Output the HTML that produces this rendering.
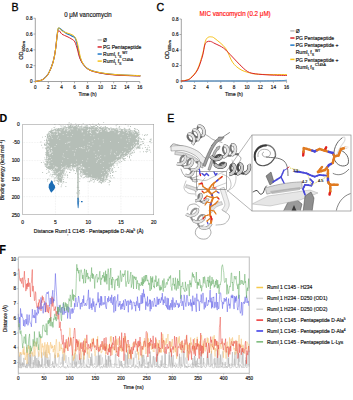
<!DOCTYPE html><html><head><meta charset="utf-8"><style>html,body{margin:0;padding:0;background:#fff;width:353px;height:400px;overflow:hidden}svg{display:block}text{transform-box:fill-box;transform-origin:center;transform:scaleY(1.1);font-family:"Liberation Sans",sans-serif;stroke:#141414;stroke-width:0.16px} text.r{stroke:#ff1414} text.n{stroke:none}</style></head><body><svg width="353" height="400" viewBox="0 0 353 400"><path d="M35.3 18.22V81.5H139.78" fill="none" stroke="#8a8a8a" stroke-width="0.8"/><path d="M33.5 81.50H35.3" stroke="#8a8a8a" stroke-width="0.7"/><text x="32.50" y="83.20" font-size="4.6" fill="#141414" text-anchor="end" font-weight="normal" >0</text><path d="M33.5 65.68H35.3" stroke="#8a8a8a" stroke-width="0.7"/><text x="32.50" y="67.38" font-size="4.6" fill="#141414" text-anchor="end" font-weight="normal" >0.2</text><path d="M33.5 49.86H35.3" stroke="#8a8a8a" stroke-width="0.7"/><text x="32.50" y="51.56" font-size="4.6" fill="#141414" text-anchor="end" font-weight="normal" >0.4</text><path d="M33.5 34.04H35.3" stroke="#8a8a8a" stroke-width="0.7"/><text x="32.50" y="35.74" font-size="4.6" fill="#141414" text-anchor="end" font-weight="normal" >0.6</text><path d="M33.5 18.22H35.3" stroke="#8a8a8a" stroke-width="0.7"/><text x="32.50" y="19.92" font-size="4.6" fill="#141414" text-anchor="end" font-weight="normal" >0.8</text><path d="M35.30 81.5V83.3" stroke="#8a8a8a" stroke-width="0.7"/><text x="35.30" y="89.10" font-size="4.6" fill="#141414" text-anchor="middle" font-weight="normal" >0</text><path d="M48.36 81.5V83.3" stroke="#8a8a8a" stroke-width="0.7"/><text x="48.36" y="89.10" font-size="4.6" fill="#141414" text-anchor="middle" font-weight="normal" >2</text><path d="M61.42 81.5V83.3" stroke="#8a8a8a" stroke-width="0.7"/><text x="61.42" y="89.10" font-size="4.6" fill="#141414" text-anchor="middle" font-weight="normal" >4</text><path d="M74.48 81.5V83.3" stroke="#8a8a8a" stroke-width="0.7"/><text x="74.48" y="89.10" font-size="4.6" fill="#141414" text-anchor="middle" font-weight="normal" >6</text><path d="M87.54 81.5V83.3" stroke="#8a8a8a" stroke-width="0.7"/><text x="87.54" y="89.10" font-size="4.6" fill="#141414" text-anchor="middle" font-weight="normal" >8</text><path d="M100.60 81.5V83.3" stroke="#8a8a8a" stroke-width="0.7"/><text x="100.60" y="89.10" font-size="4.6" fill="#141414" text-anchor="middle" font-weight="normal" >10</text><path d="M113.66 81.5V83.3" stroke="#8a8a8a" stroke-width="0.7"/><text x="113.66" y="89.10" font-size="4.6" fill="#141414" text-anchor="middle" font-weight="normal" >12</text><path d="M126.72 81.5V83.3" stroke="#8a8a8a" stroke-width="0.7"/><text x="126.72" y="89.10" font-size="4.6" fill="#141414" text-anchor="middle" font-weight="normal" >14</text><path d="M139.78 81.5V83.3" stroke="#8a8a8a" stroke-width="0.7"/><text x="139.78" y="89.10" font-size="4.6" fill="#141414" text-anchor="middle" font-weight="normal" >16</text><text x="87.54" y="96.10" font-size="4.9" fill="#141414" text-anchor="middle" font-weight="normal" >Time (h)</text><g transform="translate(23.00,50.30) rotate(-90)"><text x="0" y="0" font-size="5.6" fill="#141414" text-anchor="middle">OD<tspan font-size="3.5" dy="1.3">600nm</tspan></text></g><text x="64.20" y="16.70" font-size="6.1" fill="#222" text-anchor="start" font-weight="normal" >0 μM vancomycin</text><path d="M35.50 81.40C36.25 81.27 38.57 81.07 40.00 80.60C41.43 80.13 42.67 79.82 44.10 78.60C45.53 77.38 47.10 76.07 48.60 73.30C50.10 70.53 51.93 66.05 53.10 62.00C54.27 57.95 54.92 53.50 55.60 49.00C56.28 44.50 56.75 38.43 57.20 35.00C57.65 31.57 57.50 29.18 58.30 28.40C59.10 27.62 60.55 29.50 62.00 30.30C63.45 31.10 65.17 32.25 67.00 33.20C68.83 34.15 71.57 35.12 73.00 36.00C74.43 36.88 74.72 36.17 75.60 38.50C76.48 40.83 77.57 46.83 78.30 50.00C79.03 53.17 79.22 55.17 80.00 57.50C80.78 59.83 81.50 61.98 83.00 64.00C84.50 66.02 86.33 68.17 89.00 69.60C91.67 71.03 94.67 71.77 99.00 72.60C103.33 73.43 108.17 74.07 115.00 74.60C121.83 75.13 135.83 75.60 140.00 75.80" fill="none" stroke="#bdbdbd" stroke-width="1.0" stroke-linejoin="round" stroke-linecap="round"/><path d="M35.50 81.40C36.25 81.27 38.57 81.07 40.00 80.60C41.43 80.13 42.67 79.82 44.10 78.60C45.53 77.38 47.10 76.07 48.60 73.30C50.10 70.53 51.93 66.05 53.10 62.00C54.27 57.95 54.92 53.50 55.60 49.00C56.28 44.50 56.72 38.47 57.20 35.00C57.68 31.53 57.70 28.98 58.50 28.20C59.30 27.42 60.75 29.47 62.00 30.30C63.25 31.13 64.33 32.22 66.00 33.20C67.67 34.18 70.43 35.32 72.00 36.20C73.57 37.08 74.35 36.20 75.40 38.50C76.45 40.80 77.53 46.83 78.30 50.00C79.07 53.17 79.22 55.17 80.00 57.50C80.78 59.83 81.50 61.98 83.00 64.00C84.50 66.02 86.33 68.17 89.00 69.60C91.67 71.03 94.67 71.77 99.00 72.60C103.33 73.43 108.17 74.07 115.00 74.60C121.83 75.13 135.83 75.60 140.00 75.80" fill="none" stroke="#1f78c8" stroke-width="1.1" stroke-linejoin="round" stroke-linecap="round"/><path d="M35.50 81.40C36.25 81.27 38.57 81.07 40.00 80.60C41.43 80.13 42.67 79.82 44.10 78.60C45.53 77.38 47.10 76.07 48.60 73.30C50.10 70.53 51.93 66.05 53.10 62.00C54.27 57.95 54.92 53.50 55.60 49.00C56.28 44.50 56.65 38.07 57.20 35.00C57.75 31.93 58.10 30.73 58.90 30.60C59.70 30.47 60.65 33.22 62.00 34.20C63.35 35.18 65.32 35.65 67.00 36.50C68.68 37.35 70.78 38.38 72.10 39.30C73.42 40.22 73.98 40.22 74.90 42.00C75.82 43.78 76.83 47.42 77.60 50.00C78.37 52.58 78.60 55.17 79.50 57.50C80.40 59.83 81.42 61.95 83.00 64.00C84.58 66.05 86.33 68.33 89.00 69.80C91.67 71.27 94.67 71.93 99.00 72.80C103.33 73.67 108.17 74.47 115.00 75.00C121.83 75.53 135.83 75.83 140.00 76.00" fill="none" stroke="#d9252b" stroke-width="1.0" stroke-linejoin="round" stroke-linecap="round"/><path d="M35.50 81.40C36.25 81.27 38.57 81.07 40.00 80.60C41.43 80.13 42.67 79.82 44.10 78.60C45.53 77.38 47.10 76.07 48.60 73.30C50.10 70.53 51.93 66.05 53.10 62.00C54.27 57.95 54.92 53.50 55.60 49.00C56.28 44.50 56.72 38.52 57.20 35.00C57.68 31.48 57.62 28.53 58.50 27.90C59.38 27.27 61.08 30.35 62.50 31.20C63.92 32.05 65.22 32.32 67.00 33.00C68.78 33.68 71.60 34.05 73.20 35.30C74.80 36.55 75.65 38.05 76.60 40.50C77.55 42.95 78.25 47.17 78.90 50.00C79.55 52.83 79.77 55.17 80.50 57.50C81.23 59.83 81.88 61.98 83.30 64.00C84.72 66.02 86.38 68.20 89.00 69.60C91.62 71.00 94.67 71.58 99.00 72.40C103.33 73.22 108.17 73.97 115.00 74.50C121.83 75.03 135.83 75.42 140.00 75.60" fill="none" stroke="#f7c21a" stroke-width="1.0" stroke-linejoin="round" stroke-linecap="round"/><path d="M97.6 39.90H101.8" stroke="#bdbdbd" stroke-width="1.5"/><text x="103.0" y="41.90" font-size="5.05" fill="#141414">Ø</text><path d="M97.6 46.97H101.8" stroke="#d9252b" stroke-width="1.5"/><text x="103.0" y="48.97" font-size="5.05" fill="#141414">PG Pentapeptide</text><path d="M97.6 54.04H101.8" stroke="#1f78c8" stroke-width="1.5"/><text x="103.0" y="56.04" font-size="5.05" fill="#141414">RumI<tspan font-size="3.6" dy="1.3">L</tspan><tspan dy="-1.3" dx="0.6">f</tspan><tspan font-size="3.6" dy="1.3">S</tspan><tspan font-size="3.6" dy="-3.6" dx="0.8">WT</tspan></text><path d="M97.6 61.11H101.8" stroke="#f7c21a" stroke-width="1.5"/><text x="103.0" y="63.11" font-size="5.05" fill="#141414">RumI<tspan font-size="3.6" dy="1.3">L</tspan><tspan dy="-1.3" dx="0.6">f</tspan><tspan font-size="3.6" dy="1.3">S</tspan><tspan font-size="3.6" dy="-3.6" dx="0.8">C145A</tspan></text><text x="11.60" y="10.80" font-size="10.6" fill="#000" text-anchor="start" font-weight="normal" style="stroke:#000;stroke-width:0.3px">B</text><path d="M181.3 19.00V81.0H286.58" fill="none" stroke="#8a8a8a" stroke-width="0.8"/><path d="M179.5 81.00H181.3" stroke="#8a8a8a" stroke-width="0.7"/><text x="178.50" y="82.70" font-size="4.6" fill="#141414" text-anchor="end" font-weight="normal" >0</text><path d="M179.5 65.50H181.3" stroke="#8a8a8a" stroke-width="0.7"/><text x="178.50" y="67.20" font-size="4.6" fill="#141414" text-anchor="end" font-weight="normal" >0.2</text><path d="M179.5 50.00H181.3" stroke="#8a8a8a" stroke-width="0.7"/><text x="178.50" y="51.70" font-size="4.6" fill="#141414" text-anchor="end" font-weight="normal" >0.4</text><path d="M179.5 34.50H181.3" stroke="#8a8a8a" stroke-width="0.7"/><text x="178.50" y="36.20" font-size="4.6" fill="#141414" text-anchor="end" font-weight="normal" >0.6</text><path d="M179.5 19.00H181.3" stroke="#8a8a8a" stroke-width="0.7"/><text x="178.50" y="20.70" font-size="4.6" fill="#141414" text-anchor="end" font-weight="normal" >0.8</text><path d="M181.30 81.0V82.8" stroke="#8a8a8a" stroke-width="0.7"/><text x="181.30" y="88.60" font-size="4.6" fill="#141414" text-anchor="middle" font-weight="normal" >0</text><path d="M194.46 81.0V82.8" stroke="#8a8a8a" stroke-width="0.7"/><text x="194.46" y="88.60" font-size="4.6" fill="#141414" text-anchor="middle" font-weight="normal" >2</text><path d="M207.62 81.0V82.8" stroke="#8a8a8a" stroke-width="0.7"/><text x="207.62" y="88.60" font-size="4.6" fill="#141414" text-anchor="middle" font-weight="normal" >4</text><path d="M220.78 81.0V82.8" stroke="#8a8a8a" stroke-width="0.7"/><text x="220.78" y="88.60" font-size="4.6" fill="#141414" text-anchor="middle" font-weight="normal" >6</text><path d="M233.94 81.0V82.8" stroke="#8a8a8a" stroke-width="0.7"/><text x="233.94" y="88.60" font-size="4.6" fill="#141414" text-anchor="middle" font-weight="normal" >8</text><path d="M247.10 81.0V82.8" stroke="#8a8a8a" stroke-width="0.7"/><text x="247.10" y="88.60" font-size="4.6" fill="#141414" text-anchor="middle" font-weight="normal" >10</text><path d="M260.26 81.0V82.8" stroke="#8a8a8a" stroke-width="0.7"/><text x="260.26" y="88.60" font-size="4.6" fill="#141414" text-anchor="middle" font-weight="normal" >12</text><path d="M273.42 81.0V82.8" stroke="#8a8a8a" stroke-width="0.7"/><text x="273.42" y="88.60" font-size="4.6" fill="#141414" text-anchor="middle" font-weight="normal" >14</text><path d="M286.58 81.0V82.8" stroke="#8a8a8a" stroke-width="0.7"/><text x="286.58" y="88.60" font-size="4.6" fill="#141414" text-anchor="middle" font-weight="normal" >16</text><text x="233.94" y="95.60" font-size="4.9" fill="#141414" text-anchor="middle" font-weight="normal" >Time (h)</text><g transform="translate(169.00,49.80) rotate(-90)"><text x="0" y="0" font-size="5.6" fill="#141414" text-anchor="middle">OD<tspan font-size="3.5" dy="1.3">600nm</tspan></text></g><text x="199.60" y="16.20" font-size="6.25" fill="#ff1414" text-anchor="start" font-weight="normal" class="r">MIC vancomycin (0.2 μM)</text><path d="M181.40 81.20C198.92 81.20 268.98 81.20 286.50 81.20" fill="none" stroke="#bdbdbd" stroke-width="0.8" stroke-linejoin="round" stroke-linecap="round"/><path d="M181.40 81.20C187.83 81.17 206.90 81.03 220.00 81.00C233.10 80.97 250.00 81.05 260.00 81.00C270.00 80.95 275.58 80.83 280.00 80.70C284.42 80.57 285.42 80.28 286.50 80.20" fill="none" stroke="#1f78c8" stroke-width="0.8" stroke-linejoin="round" stroke-linecap="round"/><path d="M181.40 81.00C182.17 80.87 184.48 80.70 186.00 80.20C187.52 79.70 188.58 79.83 190.50 78.00C192.42 76.17 195.47 73.28 197.50 69.20C199.53 65.12 201.38 58.17 202.70 53.50C204.02 48.83 204.52 43.88 205.40 41.20C206.28 38.52 206.98 38.12 208.00 37.40C209.02 36.68 210.33 36.70 211.50 36.90C212.67 37.10 212.67 36.72 215.00 38.60C217.33 40.48 222.58 44.27 225.50 48.20C228.42 52.13 230.08 58.70 232.50 62.20C234.92 65.70 237.32 67.47 240.00 69.20C242.68 70.93 245.47 71.75 248.60 72.60C251.73 73.45 252.48 73.97 258.80 74.30C265.12 74.63 281.88 74.55 286.50 74.60" fill="none" stroke="#f7c21a" stroke-width="1.0" stroke-linejoin="round" stroke-linecap="round"/><path d="M181.40 81.00C182.17 80.90 184.48 80.83 186.00 80.40C187.52 79.97 188.58 80.13 190.50 78.40C192.42 76.67 195.50 73.73 197.50 70.00C199.50 66.27 201.28 60.17 202.50 56.00C203.72 51.83 204.05 47.37 204.80 45.00C205.55 42.63 206.05 42.40 207.00 41.80C207.95 41.20 209.17 41.10 210.50 41.40C211.83 41.70 212.80 42.47 215.00 43.60C217.20 44.73 220.78 45.97 223.70 48.20C226.62 50.43 229.78 54.22 232.50 57.00C235.22 59.78 237.47 62.47 240.00 64.90C242.53 67.33 245.13 70.12 247.70 71.60C250.27 73.08 251.68 73.23 255.40 73.80C259.12 74.37 264.82 74.72 270.00 75.00C275.18 75.28 283.75 75.42 286.50 75.50" fill="none" stroke="#d9252b" stroke-width="1.0" stroke-linejoin="round" stroke-linecap="round"/><path d="M290.3 30.90H294.5" stroke="#bdbdbd" stroke-width="1.5"/><text x="295.7" y="32.90" font-size="5.05" fill="#141414">Ø</text><path d="M290.3 38.02H294.5" stroke="#d9252b" stroke-width="1.5"/><text x="295.7" y="40.02" font-size="5.05" fill="#141414">PG Pentapeptide</text><path d="M290.3 45.14H294.5" stroke="#1f78c8" stroke-width="1.5"/><text x="295.7" y="47.14" font-size="5.05" fill="#141414">PG Pentapeptide +</text><text x="295.7" y="54.26" font-size="5.05" fill="#141414">RumI<tspan font-size="3.6" dy="1.3">L</tspan><tspan dy="-1.3" dx="0.6">f</tspan><tspan font-size="3.6" dy="1.3">S</tspan><tspan font-size="3.6" dy="-3.6" dx="0.8">WT</tspan></text><path d="M290.3 59.38H294.5" stroke="#f7c21a" stroke-width="1.5"/><text x="295.7" y="61.38" font-size="5.05" fill="#141414">PG Pentapeptide +</text><text x="295.7" y="68.50" font-size="5.05" fill="#141414">RumI<tspan font-size="3.6" dy="1.3">L</tspan><tspan dy="-1.3" dx="0.6">f</tspan><tspan font-size="3.6" dy="1.3">S</tspan><tspan font-size="3.6" dy="-3.6" dx="0.8">C145A</tspan></text><text x="156.50" y="11.10" font-size="10.6" fill="#000" text-anchor="start" font-weight="normal" style="stroke:#000;stroke-width:0.3px">C</text><path d="M55.45 124.5V214.7" stroke="#dcdcdc" stroke-width="0.5" stroke-dasharray="0.7 0.9"/><path d="M88.20 124.5V214.7" stroke="#dcdcdc" stroke-width="0.5" stroke-dasharray="0.7 0.9"/><path d="M120.95 124.5V214.7" stroke="#dcdcdc" stroke-width="0.5" stroke-dasharray="0.7 0.9"/><path d="M22.7 142.54H153.7" stroke="#dcdcdc" stroke-width="0.5" stroke-dasharray="0.7 0.9"/><path d="M22.7 160.58H153.7" stroke="#dcdcdc" stroke-width="0.5" stroke-dasharray="0.7 0.9"/><path d="M22.7 178.62H153.7" stroke="#dcdcdc" stroke-width="0.5" stroke-dasharray="0.7 0.9"/><path d="M22.7 196.66H153.7" stroke="#dcdcdc" stroke-width="0.5" stroke-dasharray="0.7 0.9"/><path d="M46.2 150.0 L46.4 140.0 L47.4 134.0 L50.0 131.0 L55.0 129.0 L60.7 128.0 L70.0 126.4 L80.0 126.6 L100.0 127.6 L128.0 129.4 L136.8 131.1 L138.6 134.2 L139.2 139.8 L139.0 145.0 L136.0 145.5 L127.6 154.9 L117.7 160.6 L112.0 166.2 L109.2 173.3 L106.3 180.4 L100.7 181.2 L95.0 178.5 L88.0 177.0 L82.2 173.5 L79.5 168.0 L78.0 166.5 L72.3 168.0 L65.5 169.0 L63.5 175.0 L61.5 183.0 L59.0 182.0 L56.0 176.0 L53.0 170.5 L49.0 169.5 L46.4 168.0Z" fill="#b5beb7"/><path d="M77.2 165.0 L78.7 165.0 L78.8 199.0 L77.3 199.0Z" fill="#b5beb7"/><path d="M44.9 163.8h.9v.9h-.9zM82.2 174.5h.9v.9h-.9zM62.3 182.7h.9v.9h-.9zM110.7 177.6h.9v.9h-.9zM139.7 141.5h.9v.9h-.9zM46.1 154.8h.9v.9h-.9zM129.0 156.0h.9v.9h-.9zM80.7 171.3h.9v.9h-.9zM46.0 147.8h.9v.9h-.9zM65.6 182.0h.9v.9h-.9zM68.7 168.8h.9v.9h-.9zM132.5 152.4h.9v.9h-.9zM72.5 125.1h.9v.9h-.9zM113.5 177.3h.9v.9h-.9zM101.0 183.2h.9v.9h-.9zM111.9 169.6h.9v.9h-.9zM135.7 147.1h.9v.9h-.9zM131.7 151.5h.9v.9h-.9zM100.1 127.2h.9v.9h-.9zM129.0 157.3h.9v.9h-.9zM112.8 128.2h.9v.9h-.9zM44.9 136.1h.9v.9h-.9zM75.4 126.2h.9v.9h-.9zM58.3 182.6h.9v.9h-.9zM45.6 152.2h.9v.9h-.9zM89.2 181.4h.9v.9h-.9zM91.1 126.1h.9v.9h-.9zM138.3 132.6h.9v.9h-.9zM84.3 176.8h.9v.9h-.9zM130.2 159.5h.9v.9h-.9zM118.3 160.8h.9v.9h-.9zM130.6 151.7h.9v.9h-.9zM99.6 127.4h.9v.9h-.9zM117.7 128.7h.9v.9h-.9zM105.8 127.3h.9v.9h-.9zM101.8 181.5h.9v.9h-.9zM109.9 175.3h.9v.9h-.9zM129.7 153.6h.9v.9h-.9zM80.2 175.6h.9v.9h-.9zM119.2 127.7h.9v.9h-.9zM113.2 166.4h.9v.9h-.9zM127.0 155.8h.9v.9h-.9zM143.9 138.8h.9v.9h-.9zM104.8 127.1h.9v.9h-.9zM94.1 179.7h.9v.9h-.9zM123.7 127.7h.9v.9h-.9zM115.7 125.3h.9v.9h-.9zM87.6 180.9h.9v.9h-.9zM70.6 125.5h.9v.9h-.9zM46.1 153.2h.9v.9h-.9zM97.2 180.0h.9v.9h-.9zM66.2 171.5h.9v.9h-.9zM85.9 125.3h.9v.9h-.9zM90.5 177.8h.9v.9h-.9zM132.4 152.6h.9v.9h-.9zM116.7 164.6h.9v.9h-.9zM96.1 125.1h.9v.9h-.9zM82.8 177.3h.9v.9h-.9zM86.3 176.9h.9v.9h-.9zM102.4 181.0h.9v.9h-.9zM51.2 129.6h.9v.9h-.9zM86.3 176.3h.9v.9h-.9zM112.3 168.3h.9v.9h-.9zM139.3 133.7h.9v.9h-.9zM74.5 167.6h.9v.9h-.9zM103.0 126.8h.9v.9h-.9zM75.9 167.2h.9v.9h-.9zM103.2 122.2h.9v.9h-.9zM84.1 176.8h.9v.9h-.9zM124.4 128.8h.9v.9h-.9zM75.2 173.0h.9v.9h-.9zM107.5 127.7h.9v.9h-.9zM80.2 171.6h.9v.9h-.9zM84.6 125.6h.9v.9h-.9zM128.8 128.3h.9v.9h-.9zM45.1 152.4h.9v.9h-.9zM76.1 169.6h.9v.9h-.9zM92.1 125.9h.9v.9h-.9zM62.6 125.5h.9v.9h-.9zM135.4 128.7h.9v.9h-.9zM110.6 171.1h.9v.9h-.9zM92.4 123.8h.9v.9h-.9zM48.7 131.3h.9v.9h-.9zM135.5 146.6h.9v.9h-.9zM46.7 133.9h.9v.9h-.9zM139.5 144.4h.9v.9h-.9zM89.3 124.1h.9v.9h-.9zM99.0 124.5h.9v.9h-.9zM46.0 156.7h.9v.9h-.9zM124.4 127.9h.9v.9h-.9zM138.0 130.1h.9v.9h-.9zM104.9 126.0h.9v.9h-.9zM72.5 168.5h.9v.9h-.9zM45.4 154.1h.9v.9h-.9zM95.9 127.2h.9v.9h-.9zM50.5 130.7h.9v.9h-.9zM54.0 129.0h.9v.9h-.9zM138.3 145.8h.9v.9h-.9zM111.3 169.2h.9v.9h-.9zM78.5 170.3h.9v.9h-.9zM67.0 174.5h.9v.9h-.9zM75.4 126.0h.9v.9h-.9zM90.0 179.5h.9v.9h-.9zM78.6 124.1h.9v.9h-.9zM93.4 181.9h.9v.9h-.9zM92.6 178.8h.9v.9h-.9zM69.6 171.9h.9v.9h-.9zM67.6 124.6h.9v.9h-.9zM53.7 172.5h.9v.9h-.9zM49.9 173.7h.9v.9h-.9zM110.0 172.5h.9v.9h-.9zM46.2 168.9h.9v.9h-.9zM141.1 139.0h.9v.9h-.9zM46.1 166.9h.9v.9h-.9zM81.4 172.0h.9v.9h-.9zM120.2 128.5h.9v.9h-.9zM44.6 145.0h.9v.9h-.9zM53.8 129.0h.9v.9h-.9zM98.6 127.5h.9v.9h-.9zM109.5 180.3h.9v.9h-.9zM56.3 179.7h.9v.9h-.9zM77.9 167.7h.9v.9h-.9zM136.8 129.1h.9v.9h-.9zM110.0 180.9h.9v.9h-.9zM137.6 147.1h.9v.9h-.9zM99.0 181.1h.9v.9h-.9zM117.0 162.7h.9v.9h-.9zM76.3 168.6h.9v.9h-.9zM46.1 148.7h.9v.9h-.9zM46.0 164.3h.9v.9h-.9zM124.8 158.0h.9v.9h-.9zM45.7 160.5h.9v.9h-.9zM139.6 147.6h.9v.9h-.9zM104.8 127.2h.9v.9h-.9zM127.7 125.5h.9v.9h-.9zM80.3 171.6h.9v.9h-.9zM47.1 134.9h.9v.9h-.9zM51.5 128.4h.9v.9h-.9zM69.0 168.7h.9v.9h-.9zM69.9 169.8h.9v.9h-.9zM76.2 169.2h.9v.9h-.9zM80.3 172.4h.9v.9h-.9zM111.7 168.3h.9v.9h-.9zM45.8 154.8h.9v.9h-.9zM67.3 168.9h.9v.9h-.9zM46.2 156.4h.9v.9h-.9zM45.1 144.5h.9v.9h-.9zM93.1 179.1h.9v.9h-.9zM54.4 178.1h.9v.9h-.9zM108.8 184.3h.9v.9h-.9zM112.6 171.3h.9v.9h-.9zM80.0 170.6h.9v.9h-.9zM140.4 138.6h.9v.9h-.9zM142.4 142.8h.9v.9h-.9zM46.2 140.2h.9v.9h-.9zM80.8 126.1h.9v.9h-.9zM91.2 126.5h.9v.9h-.9zM44.2 140.2h.9v.9h-.9zM100.3 181.4h.9v.9h-.9zM103.4 181.3h.9v.9h-.9zM45.1 165.8h.9v.9h-.9zM54.0 127.4h.9v.9h-.9zM70.6 123.2h.9v.9h-.9zM116.3 128.1h.9v.9h-.9zM122.7 158.5h.9v.9h-.9zM137.0 145.6h.9v.9h-.9zM75.9 167.6h.9v.9h-.9zM86.9 125.3h.9v.9h-.9zM58.2 128.0h.9v.9h-.9zM44.9 147.6h.9v.9h-.9zM82.7 122.9h.9v.9h-.9zM82.8 174.1h.9v.9h-.9zM46.3 163.1h.9v.9h-.9zM72.3 168.1h.9v.9h-.9zM42.2 172.0h.9v.9h-.9zM119.1 125.9h.9v.9h-.9zM46.8 134.8h.9v.9h-.9zM112.0 175.3h.9v.9h-.9zM67.8 126.5h.9v.9h-.9zM74.4 125.9h.9v.9h-.9zM51.9 171.7h.9v.9h-.9zM86.8 126.6h.9v.9h-.9zM85.0 175.9h.9v.9h-.9zM107.2 179.1h.9v.9h-.9zM138.5 131.9h.9v.9h-.9zM80.4 175.6h.9v.9h-.9zM55.7 128.7h.9v.9h-.9zM99.2 127.0h.9v.9h-.9zM58.4 181.3h.9v.9h-.9zM119.6 161.8h.9v.9h-.9zM96.5 179.7h.9v.9h-.9zM116.7 124.0h.9v.9h-.9zM100.2 181.8h.9v.9h-.9zM75.3 123.4h.9v.9h-.9zM49.0 171.6h.9v.9h-.9zM67.3 124.1h.9v.9h-.9zM60.8 126.4h.9v.9h-.9zM65.3 174.6h.9v.9h-.9zM54.2 174.4h.9v.9h-.9zM57.3 181.2h.9v.9h-.9zM141.3 144.3h.9v.9h-.9zM111.8 170.2h.9v.9h-.9zM92.2 127.2h.9v.9h-.9zM113.2 171.6h.9v.9h-.9zM46.1 165.7h.9v.9h-.9zM70.2 168.7h.9v.9h-.9zM42.1 136.7h.9v.9h-.9zM78.0 126.0h.9v.9h-.9zM89.4 180.8h.9v.9h-.9zM71.0 124.4h.9v.9h-.9zM106.5 127.3h.9v.9h-.9zM57.7 180.8h.9v.9h-.9zM79.2 169.0h.9v.9h-.9zM78.0 124.9h.9v.9h-.9zM61.2 184.5h.9v.9h-.9zM45.7 142.6h.9v.9h-.9zM63.4 181.6h.9v.9h-.9zM64.7 173.2h.9v.9h-.9zM100.9 183.2h.9v.9h-.9zM129.5 128.8h.9v.9h-.9zM53.4 172.0h.9v.9h-.9zM138.2 131.9h.9v.9h-.9zM134.4 148.5h.9v.9h-.9zM65.4 186.0h.9v.9h-.9zM134.0 130.1h.9v.9h-.9zM70.3 126.4h.9v.9h-.9zM85.7 125.7h.9v.9h-.9zM97.0 126.0h.9v.9h-.9zM104.1 126.7h.9v.9h-.9zM60.7 186.3h.9v.9h-.9zM68.4 125.4h.9v.9h-.9zM80.6 174.6h.9v.9h-.9zM47.8 172.2h.9v.9h-.9zM58.2 184.1h.9v.9h-.9zM45.8 144.0h.9v.9h-.9zM40.5 141.6h.9v.9h-.9zM90.7 177.9h.9v.9h-.9zM119.9 159.6h.9v.9h-.9zM134.1 151.8h.9v.9h-.9zM93.5 125.6h.9v.9h-.9zM94.3 126.1h.9v.9h-.9zM103.5 181.7h.9v.9h-.9zM51.6 174.3h.9v.9h-.9zM83.6 126.7h.9v.9h-.9zM95.0 179.0h.9v.9h-.9zM42.4 147.4h.9v.9h-.9zM41.2 144.8h.9v.9h-.9zM74.6 125.5h.9v.9h-.9zM64.3 125.9h.9v.9h-.9zM107.6 181.9h.9v.9h-.9zM44.1 144.4h.9v.9h-.9zM91.4 180.3h.9v.9h-.9zM79.0 167.5h.9v.9h-.9zM62.7 127.7h.9v.9h-.9zM128.2 129.3h.9v.9h-.9zM63.6 126.7h.9v.9h-.9zM74.1 125.9h.9v.9h-.9zM73.2 170.3h.9v.9h-.9zM118.6 126.8h.9v.9h-.9zM81.0 176.3h.9v.9h-.9zM45.4 148.4h.9v.9h-.9zM72.8 169.2h.9v.9h-.9zM48.9 131.4h.9v.9h-.9zM46.0 151.9h.9v.9h-.9zM108.5 175.8h.9v.9h-.9zM45.4 162.9h.9v.9h-.9zM121.2 161.1h.9v.9h-.9zM57.3 180.0h.9v.9h-.9zM45.2 164.3h.9v.9h-.9zM68.7 122.2h.9v.9h-.9zM72.2 126.0h.9v.9h-.9zM110.5 127.3h.9v.9h-.9zM69.0 126.6h.9v.9h-.9zM107.1 127.2h.9v.9h-.9zM44.1 163.6h.9v.9h-.9zM77.8 125.2h.9v.9h-.9zM102.3 127.3h.9v.9h-.9zM93.5 178.5h.9v.9h-.9zM95.1 125.2h.9v.9h-.9zM50.6 130.3h.9v.9h-.9zM90.0 125.5h.9v.9h-.9zM71.9 126.4h.9v.9h-.9zM122.3 158.1h.9v.9h-.9zM100.6 126.1h.9v.9h-.9zM118.6 162.4h.9v.9h-.9zM87.7 177.0h.9v.9h-.9zM79.6 126.5h.9v.9h-.9zM58.7 124.2h.9v.9h-.9zM54.4 124.0h.9v.9h-.9zM43.4 161.8h.9v.9h-.9zM68.6 123.4h.9v.9h-.9zM92.0 178.5h.9v.9h-.9zM57.1 182.9h.9v.9h-.9zM93.0 126.1h.9v.9h-.9zM68.7 126.1h.9v.9h-.9zM81.4 124.8h.9v.9h-.9zM109.1 181.7h.9v.9h-.9zM113.4 165.0h.9v.9h-.9zM88.7 126.8h.9v.9h-.9zM54.6 128.9h.9v.9h-.9zM123.2 158.2h.9v.9h-.9zM114.2 167.2h.9v.9h-.9zM71.0 169.5h.9v.9h-.9zM76.1 170.5h.9v.9h-.9zM44.7 165.4h.9v.9h-.9zM92.7 126.0h.9v.9h-.9zM67.2 175.4h.9v.9h-.9zM130.9 154.9h.9v.9h-.9zM57.9 182.7h.9v.9h-.9zM132.3 152.0h.9v.9h-.9zM49.7 131.1h.9v.9h-.9zM129.6 152.8h.9v.9h-.9zM44.3 157.4h.9v.9h-.9zM117.9 166.9h.9v.9h-.9zM101.2 182.1h.9v.9h-.9zM129.0 157.1h.9v.9h-.9zM112.2 175.0h.9v.9h-.9zM98.0 123.3h.9v.9h-.9zM131.6 151.7h.9v.9h-.9zM133.0 149.9h.9v.9h-.9zM62.8 179.0h.9v.9h-.9zM58.0 183.7h.9v.9h-.9zM58.2 180.6h.9v.9h-.9zM69.0 126.3h.9v.9h-.9zM130.1 126.1h.9v.9h-.9zM70.5 124.9h.9v.9h-.9zM80.3 173.3h.9v.9h-.9zM47.9 132.8h.9v.9h-.9zM115.4 171.0h.9v.9h-.9zM108.7 179.9h.9v.9h-.9zM123.4 159.3h.9v.9h-.9zM128.7 129.0h.9v.9h-.9zM55.8 177.6h.9v.9h-.9zM46.0 139.5h.9v.9h-.9zM57.8 180.7h.9v.9h-.9zM62.7 181.3h.9v.9h-.9zM97.5 126.1h.9v.9h-.9zM54.4 173.6h.9v.9h-.9zM62.9 180.9h.9v.9h-.9zM124.4 160.0h.9v.9h-.9zM64.3 174.5h.9v.9h-.9zM93.0 178.5h.9v.9h-.9zM116.3 127.7h.9v.9h-.9zM52.8 176.4h.9v.9h-.9zM134.6 128.5h.9v.9h-.9zM69.8 126.3h.9v.9h-.9zM70.0 125.6h.9v.9h-.9zM117.9 161.2h.9v.9h-.9zM99.6 126.9h.9v.9h-.9zM112.0 172.0h.9v.9h-.9zM75.9 125.0h.9v.9h-.9zM45.5 161.0h.9v.9h-.9zM45.9 158.5h.9v.9h-.9zM46.2 153.4h.9v.9h-.9zM131.2 153.2h.9v.9h-.9zM44.7 159.1h.9v.9h-.9zM77.3 126.5h.9v.9h-.9zM46.2 165.7h.9v.9h-.9zM118.5 160.9h.9v.9h-.9zM123.5 157.9h.9v.9h-.9zM138.4 130.8h.9v.9h-.9zM102.1 181.1h.9v.9h-.9zM111.2 169.9h.9v.9h-.9zM110.0 173.1h.9v.9h-.9zM40.9 162.1h.9v.9h-.9zM109.8 176.7h.9v.9h-.9zM63.5 176.9h.9v.9h-.9zM69.1 172.0h.9v.9h-.9zM139.5 145.3h.9v.9h-.9zM76.5 125.4h.9v.9h-.9zM69.7 124.7h.9v.9h-.9zM109.7 181.2h.9v.9h-.9zM44.1 143.7h.9v.9h-.9zM134.1 128.1h.9v.9h-.9zM99.7 181.9h.9v.9h-.9zM51.1 170.1h.9v.9h-.9zM67.2 177.2h.9v.9h-.9zM60.5 125.3h.9v.9h-.9zM115.6 163.2h.9v.9h-.9zM133.6 150.4h.9v.9h-.9zM130.2 153.5h.9v.9h-.9zM80.7 171.9h.9v.9h-.9zM85.4 175.9h.9v.9h-.9zM53.6 174.2h.9v.9h-.9zM129.3 154.5h.9v.9h-.9zM85.4 126.6h.9v.9h-.9zM90.4 179.5h.9v.9h-.9zM125.1 124.2h.9v.9h-.9zM44.0 143.5h.9v.9h-.9zM139.8 137.9h.9v.9h-.9zM55.8 128.4h.9v.9h-.9zM114.7 128.5h.9v.9h-.9zM139.4 137.4h.9v.9h-.9zM63.9 174.4h.9v.9h-.9zM105.0 181.2h.9v.9h-.9zM123.6 158.7h.9v.9h-.9zM93.8 180.9h.9v.9h-.9zM65.0 125.8h.9v.9h-.9zM53.6 127.1h.9v.9h-.9zM60.3 127.9h.9v.9h-.9zM45.7 164.4h.9v.9h-.9zM86.5 176.9h.9v.9h-.9zM80.8 170.8h.9v.9h-.9zM53.6 171.9h.9v.9h-.9zM98.4 181.8h.9v.9h-.9zM74.1 170.2h.9v.9h-.9zM143.1 151.3h.9v.9h-.9zM139.7 151.4h.9v.9h-.9zM139.3 148.0h.9v.9h-.9zM137.9 140.1h.9v.9h-.9zM141.5 140.9h.9v.9h-.9zM148.8 146.8h.9v.9h-.9zM149.2 141.1h.9v.9h-.9zM144.9 147.1h.9v.9h-.9zM146.8 134.1h.9v.9h-.9zM138.2 146.2h.9v.9h-.9zM148.7 149.6h.9v.9h-.9zM146.9 149.1h.9v.9h-.9zM137.8 135.0h.9v.9h-.9zM150.6 138.6h.9v.9h-.9zM145.9 149.3h.9v.9h-.9zM146.4 134.9h.9v.9h-.9zM150.6 142.3h.9v.9h-.9zM146.9 147.5h.9v.9h-.9zM138.4 134.0h.9v.9h-.9zM141.9 134.4h.9v.9h-.9zM147.7 145.1h.9v.9h-.9zM150.2 151.7h.9v.9h-.9zM143.0 143.0h.9v.9h-.9zM140.2 144.0h.9v.9h-.9zM144.4 144.7h.9v.9h-.9zM144.0 135.1h.9v.9h-.9zM139.2 146.5h.9v.9h-.9zM136.1 148.3h.9v.9h-.9zM149.8 141.0h.9v.9h-.9zM150.7 139.7h.9v.9h-.9zM146.1 151.6h.9v.9h-.9zM138.6 136.3h.9v.9h-.9zM143.0 138.6h.9v.9h-.9zM147.2 150.8h.9v.9h-.9zM138.4 146.8h.9v.9h-.9zM149.8 139.3h.9v.9h-.9zM137.0 146.8h.9v.9h-.9zM137.3 147.8h.9v.9h-.9zM139.3 145.0h.9v.9h-.9zM136.9 143.0h.9v.9h-.9zM142.5 141.0h.9v.9h-.9zM149.5 149.7h.9v.9h-.9zM145.3 150.9h.9v.9h-.9zM142.2 147.8h.9v.9h-.9zM144.8 134.3h.9v.9h-.9zM138.1 147.5h.9v.9h-.9zM138.8 137.9h.9v.9h-.9zM47.1 179.1h.9v.9h-.9zM55.6 171.1h.9v.9h-.9zM55.3 164.2h.9v.9h-.9zM58.8 177.0h.9v.9h-.9zM51.2 163.3h.9v.9h-.9zM49.5 175.4h.9v.9h-.9zM53.9 181.2h.9v.9h-.9zM57.5 165.2h.9v.9h-.9zM53.8 179.5h.9v.9h-.9zM54.3 160.8h.9v.9h-.9zM59.2 165.4h.9v.9h-.9zM52.1 174.6h.9v.9h-.9zM49.4 158.3h.9v.9h-.9zM54.5 179.9h.9v.9h-.9zM46.3 173.0h.9v.9h-.9zM48.0 170.5h.9v.9h-.9zM58.0 170.5h.9v.9h-.9zM49.5 164.3h.9v.9h-.9zM57.7 170.1h.9v.9h-.9zM56.1 179.9h.9v.9h-.9zM50.1 159.9h.9v.9h-.9zM59.5 171.8h.9v.9h-.9zM60.0 160.4h.9v.9h-.9zM53.0 168.9h.9v.9h-.9zM56.7 179.7h.9v.9h-.9zM48.2 158.0h.9v.9h-.9zM48.8 167.0h.9v.9h-.9zM58.7 165.1h.9v.9h-.9zM46.3 158.0h.9v.9h-.9zM53.9 158.1h.9v.9h-.9zM52.7 173.8h.9v.9h-.9zM51.4 176.3h.9v.9h-.9zM47.1 180.5h.9v.9h-.9zM48.7 178.7h.9v.9h-.9zM58.1 164.8h.9v.9h-.9zM48.3 178.4h.9v.9h-.9zM58.5 177.4h.9v.9h-.9zM59.5 174.7h.9v.9h-.9zM60.5 170.4h.9v.9h-.9zM52.7 161.3h.9v.9h-.9zM59.6 161.0h.9v.9h-.9zM47.8 162.1h.9v.9h-.9zM60.5 180.1h.9v.9h-.9zM51.9 164.1h.9v.9h-.9zM56.5 165.0h.9v.9h-.9zM55.8 169.2h.9v.9h-.9zM54.6 177.1h.9v.9h-.9zM55.1 167.8h.9v.9h-.9zM55.4 165.3h.9v.9h-.9zM61.4 162.5h.9v.9h-.9zM77.1 185.6h.9v.9h-.9zM78.2 187.0h.9v.9h-.9zM78.6 191.8h.9v.9h-.9zM77.6 199.2h.9v.9h-.9zM76.9 170.8h.9v.9h-.9zM77.0 192.9h.9v.9h-.9zM78.7 173.6h.9v.9h-.9zM76.4 192.6h.9v.9h-.9zM77.1 187.1h.9v.9h-.9zM79.4 178.3h.9v.9h-.9zM78.9 165.5h.9v.9h-.9zM76.5 168.7h.9v.9h-.9zM78.2 167.9h.9v.9h-.9zM78.3 190.9h.9v.9h-.9zM78.2 199.0h.9v.9h-.9zM77.1 182.1h.9v.9h-.9zM79.2 165.5h.9v.9h-.9zM79.2 193.4h.9v.9h-.9zM77.6 165.0h.9v.9h-.9zM76.4 171.6h.9v.9h-.9zM79.1 190.0h.9v.9h-.9zM77.1 173.7h.9v.9h-.9zM76.8 187.2h.9v.9h-.9zM77.2 167.4h.9v.9h-.9zM77.2 168.6h.9v.9h-.9zM77.8 177.0h.9v.9h-.9zM79.2 200.7h.9v.9h-.9zM78.9 167.0h.9v.9h-.9zM78.3 168.8h.9v.9h-.9zM79.2 181.2h.9v.9h-.9z" fill="#b5beb7"/><path d="M48.6 162.8h.75v.75h-.75zM98.4 159.3h.75v.75h-.75zM54.2 130.5h.75v.75h-.75zM51.6 162.0h.75v.75h-.75zM56.1 174.7h.75v.75h-.75zM104.9 176.3h.75v.75h-.75zM70.8 167.2h.75v.75h-.75zM50.1 133.6h.75v.75h-.75zM71.4 167.0h.75v.75h-.75zM63.6 170.7h.75v.75h-.75zM102.9 161.2h.75v.75h-.75zM104.9 180.0h.75v.75h-.75zM127.8 132.5h.75v.75h-.75zM57.1 173.5h.75v.75h-.75zM52.1 131.3h.75v.75h-.75zM101.5 179.2h.75v.75h-.75zM114.8 160.0h.75v.75h-.75zM97.3 155.7h.75v.75h-.75zM72.3 134.2h.75v.75h-.75zM90.4 135.3h.75v.75h-.75zM63.9 166.8h.75v.75h-.75zM69.4 146.6h.75v.75h-.75zM110.1 168.9h.75v.75h-.75zM47.3 144.6h.75v.75h-.75zM72.5 128.7h.75v.75h-.75zM48.8 152.9h.75v.75h-.75zM110.5 169.3h.75v.75h-.75zM60.9 175.3h.75v.75h-.75zM53.8 133.8h.75v.75h-.75zM64.7 128.2h.75v.75h-.75zM103.1 167.2h.75v.75h-.75zM97.1 160.5h.75v.75h-.75zM49.4 165.0h.75v.75h-.75zM55.3 171.6h.75v.75h-.75zM56.7 167.1h.75v.75h-.75zM121.3 157.6h.75v.75h-.75zM105.3 130.3h.75v.75h-.75zM66.3 133.3h.75v.75h-.75zM82.8 172.9h.75v.75h-.75zM70.3 130.7h.75v.75h-.75zM100.4 163.2h.75v.75h-.75zM129.4 152.7h.75v.75h-.75zM110.0 141.3h.75v.75h-.75zM56.2 129.2h.75v.75h-.75zM76.9 129.6h.75v.75h-.75zM78.4 166.2h.75v.75h-.75zM62.1 160.4h.75v.75h-.75zM49.3 160.3h.75v.75h-.75zM72.6 150.0h.75v.75h-.75zM98.2 150.3h.75v.75h-.75zM81.7 129.9h.75v.75h-.75zM82.1 160.2h.75v.75h-.75zM81.1 147.1h.75v.75h-.75zM104.5 175.9h.75v.75h-.75zM88.7 149.6h.75v.75h-.75zM88.8 142.0h.75v.75h-.75zM62.5 174.0h.75v.75h-.75zM102.8 139.6h.75v.75h-.75zM61.1 163.0h.75v.75h-.75zM136.5 144.2h.75v.75h-.75zM48.5 138.8h.75v.75h-.75zM88.2 150.4h.75v.75h-.75zM108.0 170.1h.75v.75h-.75zM66.8 129.1h.75v.75h-.75zM79.3 165.6h.75v.75h-.75zM48.7 149.8h.75v.75h-.75zM131.5 131.3h.75v.75h-.75zM79.0 127.5h.75v.75h-.75zM48.6 133.3h.75v.75h-.75zM132.9 142.7h.75v.75h-.75zM99.2 179.7h.75v.75h-.75zM110.6 151.4h.75v.75h-.75zM97.1 129.2h.75v.75h-.75zM46.8 156.3h.75v.75h-.75zM70.8 136.0h.75v.75h-.75zM69.2 167.4h.75v.75h-.75zM110.1 168.9h.75v.75h-.75zM97.9 127.7h.75v.75h-.75zM51.2 149.9h.75v.75h-.75zM126.1 139.4h.75v.75h-.75zM91.3 174.7h.75v.75h-.75zM46.5 159.9h.75v.75h-.75zM87.4 158.4h.75v.75h-.75zM100.7 129.4h.75v.75h-.75zM104.5 155.5h.75v.75h-.75zM54.6 146.3h.75v.75h-.75zM63.4 168.8h.75v.75h-.75zM136.8 131.5h.75v.75h-.75zM47.9 136.7h.75v.75h-.75zM61.8 128.0h.75v.75h-.75zM119.9 129.2h.75v.75h-.75zM136.3 131.1h.75v.75h-.75zM49.0 146.5h.75v.75h-.75zM57.3 132.6h.75v.75h-.75zM81.8 171.0h.75v.75h-.75zM122.3 151.1h.75v.75h-.75zM99.6 145.6h.75v.75h-.75zM110.7 167.0h.75v.75h-.75zM136.1 145.2h.75v.75h-.75zM74.9 150.6h.75v.75h-.75zM95.4 157.3h.75v.75h-.75zM133.4 144.9h.75v.75h-.75zM59.3 176.8h.75v.75h-.75zM48.4 148.8h.75v.75h-.75zM112.6 129.5h.75v.75h-.75zM103.2 128.8h.75v.75h-.75zM76.5 166.2h.75v.75h-.75zM88.0 128.9h.75v.75h-.75zM57.3 137.8h.75v.75h-.75zM65.0 170.4h.75v.75h-.75zM63.2 153.4h.75v.75h-.75zM120.6 153.3h.75v.75h-.75zM115.7 162.0h.75v.75h-.75zM108.1 172.0h.75v.75h-.75zM74.0 153.5h.75v.75h-.75zM137.8 138.4h.75v.75h-.75zM74.1 153.6h.75v.75h-.75zM120.0 130.0h.75v.75h-.75zM118.2 160.3h.75v.75h-.75zM48.6 133.9h.75v.75h-.75zM114.6 128.6h.75v.75h-.75zM65.1 166.4h.75v.75h-.75zM128.5 137.3h.75v.75h-.75zM123.2 129.6h.75v.75h-.75zM46.4 146.2h.75v.75h-.75zM47.3 143.9h.75v.75h-.75zM114.1 153.2h.75v.75h-.75zM66.5 150.3h.75v.75h-.75zM64.5 128.6h.75v.75h-.75zM110.0 128.7h.75v.75h-.75zM79.2 166.1h.75v.75h-.75zM46.4 163.0h.75v.75h-.75zM72.2 127.8h.75v.75h-.75zM48.1 135.3h.75v.75h-.75zM47.6 148.1h.75v.75h-.75zM64.4 129.6h.75v.75h-.75zM52.1 154.0h.75v.75h-.75zM100.4 155.3h.75v.75h-.75zM47.0 156.2h.75v.75h-.75zM47.3 148.9h.75v.75h-.75zM116.0 161.6h.75v.75h-.75zM131.2 147.2h.75v.75h-.75zM132.1 130.3h.75v.75h-.75zM65.8 165.6h.75v.75h-.75zM137.8 144.4h.75v.75h-.75zM96.6 160.7h.75v.75h-.75zM59.2 131.0h.75v.75h-.75zM125.7 129.9h.75v.75h-.75zM83.9 146.4h.75v.75h-.75zM118.2 142.1h.75v.75h-.75zM51.7 134.2h.75v.75h-.75zM132.7 133.5h.75v.75h-.75zM59.9 177.1h.75v.75h-.75zM70.5 128.5h.75v.75h-.75zM59.4 139.0h.75v.75h-.75zM110.5 128.8h.75v.75h-.75zM75.9 148.2h.75v.75h-.75zM79.7 166.3h.75v.75h-.75zM130.0 136.8h.75v.75h-.75zM56.9 172.7h.75v.75h-.75zM47.8 157.0h.75v.75h-.75zM138.8 139.3h.75v.75h-.75zM108.9 171.5h.75v.75h-.75zM106.7 174.7h.75v.75h-.75zM93.5 129.3h.75v.75h-.75zM81.7 172.2h.75v.75h-.75zM90.6 130.5h.75v.75h-.75zM48.3 160.8h.75v.75h-.75zM62.8 134.3h.75v.75h-.75zM90.7 177.2h.75v.75h-.75zM105.8 178.0h.75v.75h-.75zM68.7 142.2h.75v.75h-.75zM104.4 128.3h.75v.75h-.75zM119.6 130.3h.75v.75h-.75zM47.9 141.0h.75v.75h-.75zM118.1 130.4h.75v.75h-.75zM58.0 136.5h.75v.75h-.75zM96.8 177.7h.75v.75h-.75zM78.1 166.3h.75v.75h-.75zM95.7 131.0h.75v.75h-.75zM116.3 151.4h.75v.75h-.75zM91.8 140.8h.75v.75h-.75zM47.0 138.0h.75v.75h-.75zM47.7 141.3h.75v.75h-.75zM73.4 167.7h.75v.75h-.75zM87.1 147.6h.75v.75h-.75zM63.8 130.1h.75v.75h-.75zM127.0 142.9h.75v.75h-.75zM47.2 138.9h.75v.75h-.75zM113.2 162.1h.75v.75h-.75zM117.5 129.0h.75v.75h-.75zM51.0 169.4h.75v.75h-.75zM124.6 147.3h.75v.75h-.75zM62.6 155.7h.75v.75h-.75zM82.7 127.7h.75v.75h-.75zM136.2 142.2h.75v.75h-.75zM51.1 169.5h.75v.75h-.75zM67.5 136.0h.75v.75h-.75zM107.5 171.0h.75v.75h-.75zM76.4 163.5h.75v.75h-.75zM86.1 150.7h.75v.75h-.75zM100.5 129.4h.75v.75h-.75zM117.9 160.4h.75v.75h-.75zM81.6 127.6h.75v.75h-.75zM57.5 131.1h.75v.75h-.75zM82.3 147.8h.75v.75h-.75zM65.6 167.2h.75v.75h-.75zM80.8 147.5h.75v.75h-.75zM81.6 170.5h.75v.75h-.75zM55.6 130.5h.75v.75h-.75zM90.2 129.8h.75v.75h-.75zM127.4 135.2h.75v.75h-.75zM50.3 135.0h.75v.75h-.75zM90.5 127.2h.75v.75h-.75zM81.1 170.3h.75v.75h-.75zM86.7 175.2h.75v.75h-.75zM65.6 128.5h.75v.75h-.75zM90.9 132.9h.75v.75h-.75zM92.6 143.5h.75v.75h-.75zM78.5 165.0h.75v.75h-.75zM111.6 130.1h.75v.75h-.75zM100.4 128.9h.75v.75h-.75zM66.9 168.2h.75v.75h-.75zM137.2 139.3h.75v.75h-.75zM115.9 160.0h.75v.75h-.75zM108.4 172.8h.75v.75h-.75zM106.6 128.1h.75v.75h-.75zM46.7 158.1h.75v.75h-.75zM99.0 128.8h.75v.75h-.75zM71.1 165.9h.75v.75h-.75zM113.5 160.9h.75v.75h-.75zM107.5 129.0h.75v.75h-.75zM98.0 127.7h.75v.75h-.75zM63.5 172.6h.75v.75h-.75zM73.9 154.7h.75v.75h-.75zM110.1 153.5h.75v.75h-.75zM123.7 131.1h.75v.75h-.75zM132.6 132.4h.75v.75h-.75zM116.0 159.2h.75v.75h-.75zM59.0 131.1h.75v.75h-.75zM107.5 176.0h.75v.75h-.75zM106.1 173.9h.75v.75h-.75zM114.7 154.1h.75v.75h-.75zM99.2 180.3h.75v.75h-.75zM127.4 153.5h.75v.75h-.75zM93.9 127.5h.75v.75h-.75zM118.4 128.9h.75v.75h-.75zM76.1 159.8h.75v.75h-.75zM102.6 169.9h.75v.75h-.75zM93.5 135.4h.75v.75h-.75zM60.7 171.6h.75v.75h-.75zM82.4 127.0h.75v.75h-.75zM104.2 172.0h.75v.75h-.75zM95.4 153.9h.75v.75h-.75zM49.3 132.0h.75v.75h-.75zM65.5 168.2h.75v.75h-.75zM51.0 136.4h.75v.75h-.75zM134.1 144.1h.75v.75h-.75zM59.5 182.0h.75v.75h-.75zM130.6 131.5h.75v.75h-.75zM127.0 131.6h.75v.75h-.75zM119.3 154.9h.75v.75h-.75zM59.4 128.5h.75v.75h-.75zM64.2 128.9h.75v.75h-.75zM79.4 147.2h.75v.75h-.75zM129.0 129.9h.75v.75h-.75zM131.0 149.8h.75v.75h-.75zM135.9 145.1h.75v.75h-.75zM120.7 137.4h.75v.75h-.75zM54.4 170.7h.75v.75h-.75zM107.9 175.9h.75v.75h-.75zM54.6 131.2h.75v.75h-.75zM94.3 139.3h.75v.75h-.75zM107.4 172.4h.75v.75h-.75zM62.4 174.5h.75v.75h-.75zM60.8 129.6h.75v.75h-.75zM124.3 154.9h.75v.75h-.75zM47.3 145.5h.75v.75h-.75zM87.4 144.8h.75v.75h-.75zM66.8 142.8h.75v.75h-.75zM126.2 132.2h.75v.75h-.75zM126.8 153.2h.75v.75h-.75zM61.1 166.6h.75v.75h-.75zM84.5 128.2h.75v.75h-.75zM110.8 149.8h.75v.75h-.75zM130.3 151.8h.75v.75h-.75zM49.1 152.2h.75v.75h-.75zM97.8 127.7h.75v.75h-.75zM99.4 179.5h.75v.75h-.75zM97.9 138.5h.75v.75h-.75zM60.4 129.5h.75v.75h-.75zM49.0 132.3h.75v.75h-.75zM118.2 129.5h.75v.75h-.75zM87.3 132.4h.75v.75h-.75zM101.0 173.0h.75v.75h-.75zM88.1 127.6h.75v.75h-.75zM99.1 156.6h.75v.75h-.75zM83.7 148.0h.75v.75h-.75zM98.1 129.7h.75v.75h-.75zM93.7 151.5h.75v.75h-.75zM128.9 152.0h.75v.75h-.75zM122.8 157.6h.75v.75h-.75zM74.1 163.9h.75v.75h-.75zM61.8 176.6h.75v.75h-.75zM108.4 130.8h.75v.75h-.75zM90.7 145.9h.75v.75h-.75zM128.1 132.7h.75v.75h-.75zM96.4 131.7h.75v.75h-.75zM58.2 180.3h.75v.75h-.75zM49.8 157.1h.75v.75h-.75zM121.8 155.9h.75v.75h-.75zM107.0 130.7h.75v.75h-.75zM99.0 129.4h.75v.75h-.75zM86.4 160.8h.75v.75h-.75zM98.6 179.4h.75v.75h-.75zM83.7 134.8h.75v.75h-.75zM55.7 173.3h.75v.75h-.75zM133.9 131.9h.75v.75h-.75zM104.9 174.7h.75v.75h-.75zM47.8 165.2h.75v.75h-.75zM108.8 162.7h.75v.75h-.75zM122.7 134.1h.75v.75h-.75zM80.4 127.0h.75v.75h-.75zM56.0 131.4h.75v.75h-.75zM63.5 174.3h.75v.75h-.75zM67.8 141.7h.75v.75h-.75zM128.7 139.0h.75v.75h-.75zM119.7 154.1h.75v.75h-.75zM122.6 155.4h.75v.75h-.75zM67.5 157.9h.75v.75h-.75zM47.0 139.8h.75v.75h-.75zM51.8 138.2h.75v.75h-.75zM67.3 167.1h.75v.75h-.75zM98.4 150.6h.75v.75h-.75zM53.6 129.6h.75v.75h-.75zM114.5 162.9h.75v.75h-.75zM90.4 129.0h.75v.75h-.75zM51.3 159.0h.75v.75h-.75zM137.0 136.7h.75v.75h-.75zM80.3 168.4h.75v.75h-.75zM115.9 129.0h.75v.75h-.75zM96.3 162.1h.75v.75h-.75zM69.6 141.5h.75v.75h-.75zM98.3 128.2h.75v.75h-.75zM127.7 129.6h.75v.75h-.75zM56.8 176.9h.75v.75h-.75zM49.0 136.9h.75v.75h-.75zM114.6 131.4h.75v.75h-.75zM136.0 138.0h.75v.75h-.75zM71.4 128.4h.75v.75h-.75zM47.2 159.8h.75v.75h-.75zM63.0 167.2h.75v.75h-.75zM100.3 157.9h.75v.75h-.75zM83.4 139.6h.75v.75h-.75zM125.1 151.8h.75v.75h-.75zM47.0 157.8h.75v.75h-.75zM48.5 163.4h.75v.75h-.75zM137.0 139.6h.75v.75h-.75zM72.8 167.1h.75v.75h-.75zM110.2 128.6h.75v.75h-.75zM56.1 143.9h.75v.75h-.75zM104.8 180.6h.75v.75h-.75zM64.2 169.4h.75v.75h-.75zM113.4 130.0h.75v.75h-.75zM132.1 132.4h.75v.75h-.75zM57.0 176.0h.75v.75h-.75zM62.0 173.6h.75v.75h-.75zM53.4 165.6h.75v.75h-.75zM49.4 154.6h.75v.75h-.75zM134.3 131.7h.75v.75h-.75zM47.3 165.9h.75v.75h-.75zM122.9 130.4h.75v.75h-.75zM108.2 131.2h.75v.75h-.75zM105.7 130.5h.75v.75h-.75zM128.8 140.7h.75v.75h-.75zM133.0 148.6h.75v.75h-.75zM88.8 145.3h.75v.75h-.75zM122.8 157.4h.75v.75h-.75zM137.4 137.5h.75v.75h-.75zM128.8 150.3h.75v.75h-.75zM61.4 176.3h.75v.75h-.75zM59.2 181.2h.75v.75h-.75zM88.7 128.9h.75v.75h-.75zM126.7 147.8h.75v.75h-.75zM84.6 168.6h.75v.75h-.75zM63.8 157.2h.75v.75h-.75zM137.2 144.9h.75v.75h-.75zM108.2 130.4h.75v.75h-.75zM131.2 131.6h.75v.75h-.75zM92.1 129.3h.75v.75h-.75zM81.8 166.4h.75v.75h-.75zM86.6 172.3h.75v.75h-.75zM93.4 177.9h.75v.75h-.75zM80.4 128.4h.75v.75h-.75zM49.5 160.5h.75v.75h-.75zM103.0 141.7h.75v.75h-.75zM53.0 131.4h.75v.75h-.75zM61.7 178.0h.75v.75h-.75zM61.9 179.0h.75v.75h-.75zM65.0 143.3h.75v.75h-.75zM130.8 130.0h.75v.75h-.75zM74.7 164.4h.75v.75h-.75zM131.0 146.0h.75v.75h-.75zM88.7 167.1h.75v.75h-.75zM133.1 146.0h.75v.75h-.75zM51.3 147.6h.75v.75h-.75zM136.5 137.8h.75v.75h-.75zM97.8 131.2h.75v.75h-.75zM117.2 155.9h.75v.75h-.75zM104.7 178.1h.75v.75h-.75zM83.4 166.9h.75v.75h-.75zM138.8 135.6h.75v.75h-.75zM47.2 157.6h.75v.75h-.75zM67.4 127.5h.75v.75h-.75zM62.1 167.5h.75v.75h-.75zM118.4 132.9h.75v.75h-.75zM131.5 150.7h.75v.75h-.75zM136.4 141.8h.75v.75h-.75zM81.1 166.7h.75v.75h-.75zM71.4 163.5h.75v.75h-.75zM59.9 131.4h.75v.75h-.75zM50.3 133.1h.75v.75h-.75zM139.1 141.3h.75v.75h-.75zM61.5 168.2h.75v.75h-.75zM97.3 131.9h.75v.75h-.75zM53.7 130.8h.75v.75h-.75zM107.6 177.9h.75v.75h-.75zM78.1 126.7h.75v.75h-.75zM119.1 155.2h.75v.75h-.75zM110.0 129.3h.75v.75h-.75zM58.9 171.2h.75v.75h-.75zM51.0 169.0h.75v.75h-.75zM82.2 130.9h.75v.75h-.75zM68.8 128.7h.75v.75h-.75zM102.3 176.4h.75v.75h-.75zM108.7 130.5h.75v.75h-.75zM108.0 129.6h.75v.75h-.75zM54.0 130.3h.75v.75h-.75zM50.3 152.2h.75v.75h-.75zM101.0 130.4h.75v.75h-.75zM106.7 169.1h.75v.75h-.75zM48.2 164.2h.75v.75h-.75zM51.6 151.0h.75v.75h-.75zM90.3 131.6h.75v.75h-.75zM67.5 129.9h.75v.75h-.75zM48.5 141.6h.75v.75h-.75zM111.8 161.9h.75v.75h-.75zM133.3 130.4h.75v.75h-.75zM118.9 132.0h.75v.75h-.75zM135.8 141.9h.75v.75h-.75zM110.3 166.8h.75v.75h-.75zM56.9 133.6h.75v.75h-.75zM56.8 167.0h.75v.75h-.75zM135.5 133.9h.75v.75h-.75zM47.9 144.9h.75v.75h-.75zM83.5 167.6h.75v.75h-.75zM107.2 128.5h.75v.75h-.75zM115.8 161.6h.75v.75h-.75zM70.9 166.0h.75v.75h-.75zM105.0 176.7h.75v.75h-.75zM49.0 150.4h.75v.75h-.75zM127.8 129.8h.75v.75h-.75zM124.3 152.2h.75v.75h-.75zM117.8 160.9h.75v.75h-.75zM108.4 172.1h.75v.75h-.75zM123.5 129.4h.75v.75h-.75zM53.8 168.2h.75v.75h-.75zM81.2 163.8h.75v.75h-.75zM55.5 166.3h.75v.75h-.75zM119.4 129.6h.75v.75h-.75zM87.8 129.4h.75v.75h-.75zM50.6 148.3h.75v.75h-.75zM135.8 138.5h.75v.75h-.75zM97.1 131.9h.75v.75h-.75zM116.5 156.6h.75v.75h-.75zM104.0 178.8h.75v.75h-.75zM82.7 167.6h.75v.75h-.75zM138.1 136.3h.75v.75h-.75zM46.5 158.3h.75v.75h-.75zM66.7 128.2h.75v.75h-.75zM61.4 168.2h.75v.75h-.75zM117.7 133.6h.75v.75h-.75zM130.8 151.4h.75v.75h-.75zM135.7 142.5h.75v.75h-.75zM80.4 167.4h.75v.75h-.75zM70.7 164.2h.75v.75h-.75zM59.2 132.1h.75v.75h-.75zM49.6 133.8h.75v.75h-.75zM138.4 142.0h.75v.75h-.75zM60.8 168.9h.75v.75h-.75zM96.6 132.6h.75v.75h-.75zM53.0 131.5h.75v.75h-.75zM106.9 178.6h.75v.75h-.75zM77.4 127.4h.75v.75h-.75zM118.4 155.9h.75v.75h-.75zM109.3 130.0h.75v.75h-.75zM58.2 171.9h.75v.75h-.75zM50.3 169.7h.75v.75h-.75zM81.5 131.6h.75v.75h-.75zM68.1 129.4h.75v.75h-.75zM101.6 177.1h.75v.75h-.75zM108.0 131.2h.75v.75h-.75zM107.3 130.3h.75v.75h-.75zM53.3 131.0h.75v.75h-.75zM49.6 152.9h.75v.75h-.75zM100.3 131.1h.75v.75h-.75zM106.0 169.8h.75v.75h-.75zM47.5 164.9h.75v.75h-.75zM50.9 151.7h.75v.75h-.75zM89.6 132.3h.75v.75h-.75zM66.8 130.6h.75v.75h-.75zM47.8 142.3h.75v.75h-.75zM111.1 162.6h.75v.75h-.75zM132.6 131.1h.75v.75h-.75zM118.2 132.7h.75v.75h-.75zM135.1 142.6h.75v.75h-.75zM109.6 167.5h.75v.75h-.75zM56.2 134.3h.75v.75h-.75zM56.1 167.7h.75v.75h-.75zM134.8 134.6h.75v.75h-.75zM47.2 145.6h.75v.75h-.75zM82.8 168.3h.75v.75h-.75zM106.5 129.2h.75v.75h-.75zM115.1 162.3h.75v.75h-.75zM70.2 166.7h.75v.75h-.75zM104.3 177.4h.75v.75h-.75zM48.3 151.1h.75v.75h-.75zM127.1 130.5h.75v.75h-.75zM123.6 152.9h.75v.75h-.75zM117.1 161.6h.75v.75h-.75zM107.7 172.8h.75v.75h-.75zM122.8 130.1h.75v.75h-.75zM53.1 168.9h.75v.75h-.75zM80.5 164.5h.75v.75h-.75zM54.8 167.0h.75v.75h-.75zM118.7 130.3h.75v.75h-.75zM87.1 130.1h.75v.75h-.75zM51.3 148.3h.75v.75h-.75zM136.5 138.5h.75v.75h-.75zM97.8 131.9h.75v.75h-.75zM117.2 156.6h.75v.75h-.75zM104.7 178.8h.75v.75h-.75zM83.4 167.6h.75v.75h-.75zM138.8 136.3h.75v.75h-.75zM47.2 158.3h.75v.75h-.75zM67.4 128.2h.75v.75h-.75zM62.1 168.2h.75v.75h-.75zM118.4 133.6h.75v.75h-.75zM131.5 151.4h.75v.75h-.75zM136.4 142.5h.75v.75h-.75zM81.1 167.4h.75v.75h-.75zM71.4 164.2h.75v.75h-.75zM59.9 132.1h.75v.75h-.75zM50.3 133.8h.75v.75h-.75zM139.1 142.0h.75v.75h-.75zM61.5 168.9h.75v.75h-.75zM97.3 132.6h.75v.75h-.75zM53.7 131.5h.75v.75h-.75zM107.6 178.6h.75v.75h-.75zM78.1 127.4h.75v.75h-.75zM119.1 155.9h.75v.75h-.75zM110.0 130.0h.75v.75h-.75zM58.9 171.9h.75v.75h-.75zM51.0 169.7h.75v.75h-.75zM82.2 131.6h.75v.75h-.75zM68.8 129.4h.75v.75h-.75zM102.3 177.1h.75v.75h-.75zM108.7 131.2h.75v.75h-.75zM108.0 130.3h.75v.75h-.75zM54.0 131.0h.75v.75h-.75zM50.3 152.9h.75v.75h-.75zM101.0 131.1h.75v.75h-.75zM106.7 169.8h.75v.75h-.75zM48.2 164.9h.75v.75h-.75zM51.6 151.7h.75v.75h-.75zM90.3 132.3h.75v.75h-.75zM67.5 130.6h.75v.75h-.75zM48.5 142.3h.75v.75h-.75zM111.8 162.6h.75v.75h-.75zM133.3 131.1h.75v.75h-.75zM118.9 132.7h.75v.75h-.75zM135.8 142.6h.75v.75h-.75zM110.3 167.5h.75v.75h-.75zM56.9 134.3h.75v.75h-.75zM56.8 167.7h.75v.75h-.75zM135.5 134.6h.75v.75h-.75zM47.9 145.6h.75v.75h-.75zM83.5 168.3h.75v.75h-.75zM107.2 129.2h.75v.75h-.75zM115.8 162.3h.75v.75h-.75zM70.9 166.7h.75v.75h-.75zM105.0 177.4h.75v.75h-.75zM49.0 151.1h.75v.75h-.75zM127.8 130.5h.75v.75h-.75zM124.3 152.9h.75v.75h-.75zM117.8 161.6h.75v.75h-.75zM108.4 172.8h.75v.75h-.75zM123.5 130.1h.75v.75h-.75zM53.8 168.9h.75v.75h-.75zM81.2 164.5h.75v.75h-.75zM55.5 167.0h.75v.75h-.75zM119.4 130.3h.75v.75h-.75zM87.8 130.1h.75v.75h-.75z" fill="#eef0ee"/><path d="M51.4 180.3 L52.6 181.2 L53.2 183.5 L54.8 185.4 L55.2 187.5 L54.2 189.6 L52.6 191.2 L51.2 192.8 L49.9 190.6 L48.6 187.5 L48.9 184.5 L50.4 182.6Z" fill="#1c6db5"/><path d="M77.4 197.8 L78.6 197.8 L78.9 203.0 L78.5 208.2 L77.8 208.0 L77.3 203.0Z" fill="#1c6db5"/><path d="M81 201h1.6v1.3h-1.6z" fill="#1c6db5"/><rect x="22.7" y="124.5" width="131.00" height="90.20" fill="none" stroke="#a0a0a0" stroke-width="0.6"/><text x="22.70" y="223.9" font-size="4.9" fill="#141414" text-anchor="middle">0</text><text x="55.45" y="223.9" font-size="4.9" fill="#141414" text-anchor="middle">5</text><text x="88.20" y="223.9" font-size="4.9" fill="#141414" text-anchor="middle">10</text><text x="120.95" y="223.9" font-size="4.9" fill="#141414" text-anchor="middle">15</text><text x="153.70" y="223.9" font-size="4.9" fill="#141414" text-anchor="middle">20</text><text x="19.8" y="126.20" font-size="4.9" fill="#141414" text-anchor="end">0</text><text x="19.8" y="144.24" font-size="4.9" fill="#141414" text-anchor="end">-50</text><text x="19.8" y="162.28" font-size="4.9" fill="#141414" text-anchor="end">100</text><text x="19.8" y="180.32" font-size="4.9" fill="#141414" text-anchor="end">150</text><text x="19.8" y="198.36" font-size="4.9" fill="#141414" text-anchor="end">200</text><text x="19.8" y="216.40" font-size="4.9" fill="#141414" text-anchor="end">250</text><text x="88.6" y="233.1" font-size="5.1" fill="#141414" text-anchor="middle">Distance RumI<tspan font-size="3.5" dy="1.2">,</tspan><tspan dy="-1.2">1 C145 - Pentapeptide D-Ala</tspan><tspan font-size="3.5" dy="-1.8">5</tspan><tspan dy="1.8"> (Å)</tspan></text><g transform="translate(4.2,170) rotate(-90)"><text x="0" y="0" font-size="5.1" fill="#141414" text-anchor="middle">Binding energy (kcal mol<tspan font-size="3.5" dy="-1.8">-1</tspan><tspan dy="1.8">)</tspan></text></g><text x="-0.6" y="121.2" font-size="10.6" font-weight="bold" fill="#000">D</text><path d="M18.3 257H249.3V373.3" fill="none" stroke="#c4c4c4" stroke-width="1.1"/><path d="M18.3 364.6 18.8 364.7 19.3 363.0 19.8 362.4 20.4 365.7 20.9 363.7 21.4 364.8 21.9 363.9 22.4 365.5 22.9 363.1 23.4 364.8 23.9 363.3 24.5 364.1 25.0 364.9 25.5 365.4 26.0 365.3 26.5 365.4 27.0 365.7 27.5 364.3 28.1 362.2 28.6 364.1 29.1 364.5 29.6 364.4 30.1 365.7 30.6 350.9 31.1 364.2 31.6 357.3 32.2 351.6 32.7 364.3 33.2 364.4 33.7 360.0 34.2 364.5 34.7 364.9 35.2 356.3 35.8 365.5 36.3 364.8 36.8 365.1 37.3 364.7 37.8 365.6 38.3 351.5 38.8 357.9 39.3 365.5 39.9 364.3 40.4 365.5 40.9 364.8 41.4 365.1 41.9 365.5 42.4 358.6 42.9 364.6 43.5 365.3 44.0 364.1 44.5 364.7 45.0 365.1 45.5 365.1 46.0 349.9 46.5 363.7 47.0 354.3 47.6 365.5 48.1 357.1 48.6 365.7 49.1 364.4 49.6 364.3 50.1 353.1 50.6 365.8 51.2 364.0 51.7 364.8 52.2 363.7 52.7 364.1 53.2 363.2 53.7 364.2 54.2 363.5 54.7 353.6 55.3 363.0 55.8 362.9 56.3 364.7 56.8 365.6 57.3 363.7 57.8 365.3 58.3 365.8 58.9 356.5 59.4 354.6 59.9 364.0 60.4 365.0 60.9 362.3 61.4 364.1 61.9 357.8 62.4 356.8 63.0 364.2 63.5 364.3 64.0 355.9 64.5 352.5 65.0 355.6 65.5 363.0 66.0 355.3 66.6 361.2 67.1 364.8 67.6 365.7 68.1 364.5 68.6 357.0 69.1 360.4 69.6 364.0 70.1 365.5 70.7 362.9 71.2 364.5 71.7 365.3 72.2 364.7 72.7 364.6 73.2 364.0 73.7 357.3 74.3 364.6 74.8 362.4 75.3 364.0 75.8 365.4 76.3 365.5 76.8 354.5 77.3 355.9 77.8 364.7 78.4 360.5 78.9 363.9 79.4 353.7 79.9 364.1 80.4 358.6 80.9 365.4 81.4 363.3 82.0 364.5 82.5 363.4 83.0 362.3 83.5 357.4 84.0 362.0 84.5 362.6 85.0 363.9 85.5 365.2 86.1 365.7 86.6 364.8 87.1 357.9 87.6 352.1 88.1 364.7 88.6 358.8 89.1 363.2 89.7 365.3 90.2 364.0 90.7 365.5 91.2 359.5 91.7 363.3 92.2 365.4 92.7 364.3 93.2 365.5 93.8 365.2 94.3 363.1 94.8 364.9 95.3 356.0 95.8 365.3 96.3 365.4 96.8 355.7 97.4 365.7 97.9 364.5 98.4 355.5 98.9 364.9 99.4 365.3 99.9 354.7 100.4 364.9 100.9 354.6 101.5 365.1 102.0 364.2 102.5 357.4 103.0 364.0 103.5 364.3 104.0 365.0 104.5 363.9 105.1 364.3 105.6 364.0 106.1 364.0 106.6 364.0 107.1 365.2 107.6 362.5 108.1 355.7 108.6 365.5 109.2 356.2 109.7 362.0 110.2 355.2 110.7 364.6 111.2 365.6 111.7 363.7 112.2 364.2 112.8 364.2 113.3 364.9 113.8 364.4 114.3 365.2 114.8 363.1 115.3 365.3 115.8 364.8 116.3 364.2 116.9 365.1 117.4 364.5 117.9 365.5 118.4 359.8 118.9 358.4 119.4 365.5 119.9 364.9 120.5 364.7 121.0 365.6 121.5 364.5 122.0 365.3 122.5 363.6 123.0 364.0 123.5 365.0 124.0 364.4 124.6 364.7 125.1 363.7 125.6 363.4 126.1 355.1 126.6 360.6 127.1 364.6 127.6 349.9 128.2 364.1 128.7 364.6 129.2 364.5 129.7 358.2 130.2 364.9 130.7 357.3 131.2 350.1 131.7 364.1 132.3 365.6 132.8 365.0 133.3 364.5 133.8 365.3 134.3 360.8 134.8 356.5 135.3 350.8 135.9 358.0 136.4 353.4 136.9 364.2 137.4 363.8 137.9 364.1 138.4 360.5 138.9 358.3 139.4 364.8 140.0 364.6 140.5 365.7 141.0 363.0 141.5 354.0 142.0 364.4 142.5 363.7 143.0 362.0 143.6 361.5 144.1 359.4 144.6 359.5 145.1 363.9 145.6 363.5 146.1 364.6 146.6 355.8 147.1 364.6 147.7 362.8 148.2 364.7 148.7 362.6 149.2 362.3 149.7 363.2 150.2 355.4 150.7 361.9 151.3 364.5 151.8 364.7 152.3 364.1 152.8 363.9 153.3 356.6 153.8 364.9 154.3 365.1 154.8 362.9 155.4 357.3 155.9 365.0 156.4 363.7 156.9 365.6 157.4 348.0 157.9 364.8 158.4 365.7 159.0 364.9 159.5 364.6 160.0 365.5 160.5 365.1 161.0 364.5 161.5 365.3 162.0 364.8 162.5 364.3 163.1 363.8 163.6 365.2 164.1 363.4 164.6 364.3 165.1 351.2 165.6 365.0 166.1 364.0 166.7 364.8 167.2 364.9 167.7 365.3 168.2 365.7 168.7 363.8 169.2 355.2 169.7 362.9 170.2 365.6 170.8 364.0 171.3 351.0 171.8 364.5 172.3 365.7 172.8 362.7 173.3 364.5 173.8 365.1 174.4 365.7 174.9 365.8 175.4 362.6 175.9 365.0 176.4 364.9 176.9 363.7 177.4 364.8 177.9 365.6 178.5 362.6 179.0 362.1 179.5 356.4 180.0 365.4 180.5 365.5 181.0 356.9 181.5 365.0 182.1 348.3 182.6 352.3 183.1 352.4 183.6 363.8 184.1 364.2 184.6 365.6 185.1 365.3 185.6 357.6 186.2 359.5 186.7 363.9 187.2 349.8 187.7 364.7 188.2 365.6 188.7 364.1 189.2 364.2 189.8 363.8 190.3 364.1 190.8 364.7 191.3 364.2 191.8 363.5 192.3 365.0 192.8 362.3 193.3 364.9 193.9 364.0 194.4 365.7 194.9 354.6 195.4 365.4 195.9 363.9 196.4 364.9 196.9 363.3 197.5 363.2 198.0 363.0 198.5 364.0 199.0 363.0 199.5 365.0 200.0 357.4 200.5 363.8 201.0 363.8 201.6 351.3 202.1 363.2 202.6 364.5 203.1 364.3 203.6 362.1 204.1 362.9 204.6 363.1 205.2 363.7 205.7 365.1 206.2 365.8 206.7 365.1 207.2 356.5 207.7 364.7 208.2 358.2 208.7 364.3 209.3 363.8 209.8 364.7 210.3 353.8 210.8 362.3 211.3 365.4 211.8 364.1 212.3 365.5 212.9 363.4 213.4 363.8 213.9 358.8 214.4 364.1 214.9 364.9 215.4 362.8 215.9 364.6 216.4 365.4 217.0 349.2 217.5 350.4 218.0 364.0 218.5 365.5 219.0 358.0 219.5 365.4 220.0 355.6 220.6 357.4 221.1 364.3 221.6 361.4 222.1 356.9 222.6 351.3 223.1 364.8 223.6 364.0 224.1 363.6 224.7 365.0 225.2 364.6 225.7 364.8 226.2 364.5 226.7 364.4 227.2 350.9 227.7 355.1 228.3 364.1 228.8 357.0 229.3 365.0 229.8 363.9 230.3 365.5 230.8 365.7 231.3 363.4 231.8 365.7 232.4 364.4 232.9 364.8 233.4 364.5 233.9 364.9 234.4 358.7 234.9 365.2 235.4 365.2 236.0 364.0 236.5 350.6 237.0 363.2 237.5 365.0 238.0 364.4 238.5 365.4 239.0 354.4 239.5 361.9 240.1 350.4 240.6 353.7 241.1 363.4 241.6 363.6 242.1 348.7 242.6 363.0 243.1 364.7 243.7 364.9 244.2 365.4 244.7 365.0 245.2 365.4 245.7 357.3 246.2 365.5 246.7 353.3 247.2 364.3 247.8 365.3 248.3 365.0 248.8 363.9 249.3 365.4" fill="none" stroke="#c4c4c4" stroke-width="0.45" stroke-linejoin="round" opacity="1"/><path d="M18.3 366.3 18.8 367.6 19.3 355.7 19.8 368.0 20.4 368.0 20.9 353.5 21.4 368.0 21.9 367.7 22.4 362.4 22.9 366.4 23.4 367.2 23.9 357.9 24.5 365.5 25.0 367.1 25.5 366.0 26.0 368.1 26.5 363.3 27.0 368.1 27.5 367.7 28.1 353.7 28.6 365.8 29.1 366.5 29.6 352.9 30.1 368.1 30.6 354.8 31.1 367.9 31.6 368.1 32.2 367.5 32.7 368.1 33.2 362.3 33.7 367.9 34.2 367.2 34.7 355.2 35.2 356.5 35.8 367.9 36.3 367.0 36.8 358.0 37.3 365.2 37.8 367.7 38.3 360.1 38.8 367.9 39.3 361.3 39.9 367.2 40.4 367.6 40.9 364.6 41.4 367.0 41.9 352.3 42.4 367.4 42.9 368.1 43.5 367.2 44.0 366.9 44.5 364.7 45.0 351.7 45.5 367.8 46.0 367.8 46.5 367.0 47.0 367.9 47.6 360.1 48.1 365.4 48.6 367.1 49.1 359.7 49.6 367.6 50.1 367.3 50.6 367.8 51.2 367.2 51.7 367.1 52.2 366.9 52.7 361.4 53.2 364.9 53.7 367.8 54.2 366.0 54.7 367.8 55.3 354.9 55.8 363.0 56.3 366.2 56.8 366.7 57.3 366.9 57.8 367.4 58.3 367.1 58.9 367.0 59.4 366.3 59.9 367.2 60.4 367.7 60.9 367.7 61.4 366.4 61.9 366.5 62.4 366.7 63.0 354.1 63.5 366.2 64.0 367.8 64.5 367.6 65.0 366.5 65.5 368.1 66.0 367.9 66.6 367.9 67.1 367.3 67.6 365.2 68.1 367.0 68.6 367.6 69.1 366.6 69.6 367.1 70.1 367.1 70.7 367.0 71.2 366.8 71.7 367.3 72.2 354.9 72.7 368.0 73.2 367.1 73.7 366.8 74.3 368.1 74.8 352.8 75.3 355.2 75.8 367.0 76.3 361.6 76.8 367.8 77.3 368.0 77.8 367.8 78.4 367.8 78.9 366.7 79.4 366.6 79.9 367.7 80.4 362.7 80.9 358.2 81.4 367.7 82.0 367.5 82.5 366.4 83.0 366.1 83.5 351.1 84.0 368.0 84.5 367.4 85.0 366.9 85.5 367.4 86.1 367.1 86.6 364.7 87.1 367.5 87.6 365.9 88.1 367.9 88.6 367.1 89.1 366.3 89.7 367.9 90.2 365.7 90.7 356.9 91.2 365.7 91.7 353.4 92.2 357.3 92.7 367.1 93.2 367.6 93.8 367.5 94.3 366.9 94.8 366.2 95.3 367.5 95.8 367.9 96.3 367.5 96.8 365.8 97.4 367.1 97.9 366.6 98.4 351.9 98.9 365.5 99.4 355.5 99.9 367.8 100.4 367.9 100.9 367.9 101.5 366.0 102.0 366.6 102.5 367.9 103.0 367.6 103.5 364.9 104.0 367.2 104.5 367.0 105.1 367.0 105.6 355.1 106.1 367.9 106.6 359.6 107.1 366.3 107.6 367.6 108.1 366.9 108.6 355.8 109.2 366.7 109.7 367.5 110.2 366.4 110.7 359.7 111.2 367.2 111.7 367.0 112.2 366.7 112.8 367.5 113.3 367.3 113.8 367.1 114.3 367.4 114.8 367.1 115.3 355.7 115.8 353.7 116.3 367.0 116.9 367.9 117.4 367.4 117.9 367.1 118.4 368.0 118.9 367.4 119.4 368.0 119.9 360.6 120.5 363.2 121.0 366.4 121.5 361.0 122.0 367.3 122.5 365.4 123.0 367.7 123.5 367.8 124.0 368.0 124.6 366.8 125.1 353.6 125.6 367.3 126.1 367.4 126.6 366.7 127.1 367.8 127.6 352.3 128.2 367.4 128.7 365.9 129.2 366.5 129.7 367.0 130.2 367.7 130.7 367.1 131.2 367.7 131.7 365.5 132.3 366.5 132.8 366.6 133.3 357.7 133.8 366.8 134.3 366.7 134.8 368.0 135.3 367.7 135.9 364.6 136.4 367.1 136.9 366.5 137.4 366.0 137.9 368.1 138.4 367.8 138.9 368.1 139.4 361.3 140.0 366.6 140.5 367.2 141.0 367.5 141.5 364.3 142.0 367.9 142.5 354.9 143.0 366.1 143.6 354.9 144.1 356.9 144.6 367.7 145.1 367.8 145.6 366.2 146.1 367.8 146.6 367.1 147.1 366.6 147.7 368.1 148.2 361.6 148.7 368.1 149.2 366.7 149.7 363.9 150.2 351.6 150.7 366.6 151.3 367.4 151.8 364.7 152.3 367.6 152.8 365.4 153.3 356.0 153.8 356.5 154.3 358.2 154.8 367.3 155.4 366.7 155.9 365.9 156.4 366.9 156.9 365.8 157.4 352.5 157.9 367.7 158.4 366.1 159.0 367.4 159.5 366.4 160.0 368.1 160.5 367.2 161.0 360.4 161.5 366.6 162.0 355.5 162.5 361.7 163.1 367.3 163.6 366.5 164.1 367.1 164.6 368.0 165.1 353.8 165.6 367.6 166.1 368.0 166.7 367.1 167.2 367.6 167.7 366.8 168.2 367.3 168.7 366.5 169.2 352.1 169.7 362.1 170.2 366.6 170.8 367.5 171.3 355.8 171.8 359.5 172.3 367.8 172.8 357.2 173.3 355.1 173.8 366.7 174.4 365.1 174.9 366.4 175.4 367.7 175.9 366.9 176.4 365.3 176.9 366.9 177.4 367.2 177.9 367.1 178.5 367.5 179.0 366.3 179.5 353.8 180.0 366.5 180.5 368.1 181.0 367.8 181.5 364.6 182.1 366.5 182.6 366.4 183.1 362.0 183.6 356.0 184.1 351.7 184.6 367.5 185.1 367.2 185.6 365.6 186.2 367.8 186.7 366.0 187.2 367.7 187.7 367.7 188.2 365.9 188.7 367.1 189.2 366.2 189.8 366.6 190.3 365.5 190.8 365.8 191.3 367.8 191.8 367.4 192.3 367.7 192.8 358.0 193.3 367.5 193.9 367.6 194.4 356.0 194.9 358.1 195.4 367.2 195.9 361.2 196.4 360.7 196.9 367.7 197.5 358.4 198.0 367.0 198.5 365.9 199.0 367.4 199.5 366.6 200.0 367.0 200.5 367.4 201.0 351.5 201.6 368.0 202.1 366.8 202.6 366.9 203.1 366.0 203.6 358.0 204.1 366.3 204.6 366.2 205.2 367.7 205.7 367.4 206.2 366.9 206.7 366.8 207.2 354.4 207.7 352.2 208.2 359.0 208.7 365.9 209.3 366.7 209.8 367.2 210.3 365.6 210.8 366.6 211.3 351.1 211.8 355.6 212.3 367.3 212.9 368.0 213.4 367.9 213.9 367.6 214.4 367.8 214.9 357.7 215.4 364.4 215.9 367.2 216.4 366.7 217.0 368.0 217.5 350.5 218.0 367.5 218.5 367.6 219.0 366.2 219.5 366.9 220.0 367.8 220.6 354.5 221.1 367.1 221.6 366.3 222.1 367.5 222.6 362.3 223.1 367.6 223.6 367.9 224.1 367.2 224.7 367.6 225.2 361.9 225.7 367.7 226.2 367.8 226.7 366.0 227.2 368.0 227.7 367.1 228.3 358.1 228.8 366.8 229.3 364.2 229.8 367.9 230.3 367.9 230.8 367.7 231.3 367.6 231.8 367.5 232.4 352.0 232.9 366.6 233.4 367.1 233.9 366.7 234.4 366.3 234.9 351.9 235.4 365.4 236.0 367.9 236.5 367.5 237.0 367.7 237.5 366.9 238.0 367.4 238.5 352.9 239.0 366.3 239.5 367.6 240.1 364.3 240.6 365.7 241.1 366.2 241.6 366.2 242.1 368.0 242.6 355.3 243.1 351.7 243.7 368.0 244.2 367.4 244.7 367.1 245.2 366.7 245.7 360.0 246.2 367.3 246.7 368.0 247.2 367.3 247.8 366.5 248.3 354.7 248.8 350.5 249.3 366.8" fill="none" stroke="#a4a4a4" stroke-width="0.45" stroke-linejoin="round" opacity="1"/><path d="M18.3 346.2 18.7 352.7 19.2 353.5 19.6 356.5 20.0 352.2 20.5 353.8 20.9 352.0 21.4 354.5 21.8 354.9 22.2 353.8 22.7 353.5 23.1 349.2 23.5 354.5 24.0 346.5 24.4 354.8 24.8 352.6 25.3 360.0 25.7 357.5 26.2 356.7 26.6 347.1 27.0 363.9 27.5 352.3 27.9 354.8 28.3 344.9 28.8 348.8 29.2 346.3 29.6 350.4 30.1 357.0 30.5 352.3 31.0 349.1 31.4 347.9 31.8 354.2 32.3 352.5 32.7 356.2 33.1 356.6 33.6 356.2 34.0 340.9 34.4 349.6 34.9 355.7 35.3 350.0 35.8 349.2 36.2 341.6 36.6 344.5 37.1 346.1 37.5 348.3 37.9 350.7 38.4 352.2 38.8 356.7 39.2 355.9 39.7 352.8 40.1 343.5 40.6 338.2 41.0 346.1 41.4 357.9 41.9 344.6 42.3 343.4 42.7 347.4 43.2 345.8 43.6 355.4 44.0 352.5 44.5 344.1 44.9 342.3 45.4 357.0 45.8 356.7 46.2 344.4 46.7 351.7 47.1 358.0 47.5 342.2 48.0 348.4 48.4 353.1 48.8 345.2 49.3 354.5 49.7 350.9 50.2 345.8 50.6 342.1 51.0 346.5 51.5 348.5 51.9 344.7 52.3 348.0 52.8 346.0 53.2 352.2 53.6 349.3 54.1 349.9 54.5 345.1 55.0 358.1 55.4 351.7 55.8 344.2 56.3 339.2 56.7 342.1 57.1 352.5 57.6 357.4 58.0 353.0 58.4 356.9 58.9 352.2 59.3 341.8 59.8 351.0 60.2 349.2 60.6 347.0 61.1 343.7 61.5 349.1 61.9 347.7 62.4 351.8 62.8 353.8 63.2 348.3 63.7 349.9 64.1 360.6 64.6 357.9 65.0 350.9 65.4 351.1 65.9 346.0 66.3 345.4 66.7 348.3 67.2 341.4 67.6 349.2 68.0 338.7 68.5 338.9 68.9 336.5 69.4 335.3 69.8 327.8 70.2 329.3 70.7 345.5 71.1 338.2 71.5 338.8 72.0 342.9 72.4 345.6 72.8 346.9 73.3 360.6 73.7 357.3 74.2 354.2 74.6 358.6 75.0 349.3 75.5 354.2 75.9 344.0 76.3 344.1 76.8 344.5 77.2 341.4 77.6 349.8 78.1 343.6 78.5 344.2 79.0 339.5 79.4 350.7 79.8 345.6 80.3 342.1 80.7 343.6 81.1 359.3 81.6 355.3 82.0 352.1 82.4 349.8 82.9 349.6 83.3 343.8 83.7 350.2 84.2 359.6 84.6 338.4 85.1 347.1 85.5 338.6 85.9 349.8 86.4 347.2 86.8 347.8 87.2 354.3 87.7 348.7 88.1 350.5 88.5 354.6 89.0 358.1 89.4 357.7 89.9 344.8 90.3 343.6 90.7 345.2 91.2 347.1 91.6 339.6 92.0 338.8 92.5 344.1 92.9 346.8 93.3 337.9 93.8 343.0 94.2 348.5 94.7 353.2 95.1 356.1 95.5 353.5 96.0 348.7 96.4 347.7 96.8 339.2 97.3 341.4 97.7 336.3 98.1 345.9 98.6 350.6 99.0 345.5 99.5 347.2 99.9 346.3 100.3 346.4 100.8 350.7 101.2 353.2 101.6 351.7 102.1 352.0 102.5 341.7 102.9 349.2 103.4 346.4 103.8 344.5 104.3 348.4 104.7 345.0 105.1 343.3 105.6 354.6 106.0 347.6 106.4 348.8 106.9 344.1 107.3 348.3 107.7 350.4 108.2 351.5 108.6 348.5 109.1 344.8 109.5 348.5 109.9 344.4 110.4 336.5 110.8 341.5 111.2 336.0 111.7 348.6 112.1 355.1 112.5 350.7 113.0 348.1 113.4 346.6 113.9 350.3 114.3 346.4 114.7 341.4 115.2 340.4 115.6 345.3 116.0 353.0 116.5 339.4 116.9 339.7 117.3 345.0 117.8 340.2 118.2 338.2 118.7 343.4 119.1 350.1 119.5 346.0 120.0 351.0 120.4 349.0 120.8 340.4 121.3 345.1 121.7 351.7 122.1 347.3 122.6 347.3 123.0 351.4 123.5 347.5 123.9 336.4 124.3 339.4 124.8 342.4 125.2 342.7 125.6 336.2 126.1 352.6 126.5 343.7 126.9 347.6 127.4 344.1 127.8 346.9 128.3 349.1 128.7 358.8 129.1 348.5 129.6 344.3 130.0 350.3 130.4 356.6 130.9 350.7 131.3 359.5 131.7 354.2 132.2 346.9 132.6 343.5 133.1 342.8 133.5 343.6 133.9 346.3 134.4 344.5 134.8 341.6 135.2 341.0 135.7 343.7 136.1 344.6 136.5 343.5 137.0 351.8 137.4 348.7 137.9 354.6 138.3 351.9 138.7 359.7 139.2 351.7 139.6 344.5 140.0 344.1 140.5 341.9 140.9 343.2 141.3 344.7 141.8 357.3 142.2 352.0 142.7 347.8 143.1 349.8 143.5 341.5 144.0 347.5 144.4 338.0 144.8 338.7 145.3 345.4 145.7 353.8 146.1 354.0 146.6 351.4 147.0 346.9 147.5 333.4 147.9 347.8 148.3 338.3 148.8 343.0 149.2 346.8 149.6 345.5 150.1 344.5 150.5 343.2 150.9 345.8 151.4 349.6 151.8 343.6 152.3 345.2 152.7 344.2 153.1 351.4 153.6 350.8 154.0 352.0 154.4 347.4 154.9 345.8 155.3 346.6 155.7 345.0 156.2 346.4 156.6 339.4 157.1 348.4 157.5 342.7 157.9 348.5 158.4 349.9 158.8 353.7 159.2 340.0 159.7 349.3 160.1 349.6 160.5 352.5 161.0 349.2 161.4 352.5 161.9 338.2 162.3 343.0 162.7 333.8 163.2 336.9 163.6 352.2 164.0 344.6 164.5 340.8 164.9 340.8 165.3 345.3 165.8 342.2 166.2 338.2 166.7 343.6 167.1 339.0 167.5 337.8 168.0 334.0 168.4 343.7 168.8 343.4 169.3 347.3 169.7 350.8 170.1 352.9 170.6 350.1 171.0 341.9 171.5 346.7 171.9 342.5 172.3 339.0 172.8 346.2 173.2 346.3 173.6 352.8 174.1 351.1 174.5 349.6 174.9 346.6 175.4 352.1 175.8 347.7 176.3 355.0 176.7 358.8 177.1 350.4 177.6 342.0 178.0 337.5 178.4 339.5 178.9 343.7 179.3 336.2 179.7 342.6 180.2 349.0 180.6 342.1 181.1 348.6 181.5 352.6 181.9 345.0 182.4 340.5 182.8 346.8 183.2 350.5 183.7 346.9 184.1 343.2 184.5 350.5 185.0 349.2 185.4 344.2 185.9 343.7 186.3 336.4 186.7 339.2 187.2 357.7 187.6 342.5 188.0 349.1 188.5 344.7 188.9 353.4 189.3 344.8 189.8 354.3 190.2 344.2 190.7 337.5 191.1 345.3 191.5 342.5 192.0 344.4 192.4 346.3 192.8 350.9 193.3 347.8 193.7 344.9 194.1 352.6 194.6 338.0 195.0 350.4 195.5 348.4 195.9 348.3 196.3 348.0 196.8 348.8 197.2 336.8 197.6 345.1 198.1 347.2 198.5 343.5 198.9 348.5 199.4 354.8 199.8 341.4 200.3 345.7 200.7 340.4 201.1 339.1 201.6 335.1 202.0 339.8 202.4 343.6 202.9 354.4 203.3 343.7 203.7 350.3 204.2 340.6 204.6 347.3 205.1 351.5 205.5 347.3 205.9 347.2 206.4 345.7 206.8 341.4 207.2 337.5 207.7 343.1 208.1 338.2 208.5 343.1 209.0 353.1 209.4 352.3 209.9 348.2 210.3 347.2 210.7 343.3 211.2 350.1 211.6 353.4 212.0 343.9 212.5 347.3 212.9 336.6 213.3 348.8 213.8 350.0 214.2 335.2 214.7 352.9 215.1 356.7 215.5 348.2 216.0 351.2 216.4 348.6 216.8 340.9 217.3 346.3 217.7 346.2 218.1 342.2 218.6 350.0 219.0 355.4 219.4 347.2 219.9 346.5 220.3 343.0 220.8 348.7 221.2 348.7 221.6 347.8 222.1 345.0 222.5 341.5 222.9 343.6 223.4 357.7 223.8 351.2 224.2 350.8 224.7 351.4 225.1 350.6 225.6 345.3 226.0 358.6 226.4 347.3 226.9 342.7 227.3 341.7 227.7 348.5 228.2 354.7 228.6 355.1 229.0 350.9 229.5 337.4 229.9 348.2 230.4 346.8 230.8 340.1 231.2 338.6 231.7 344.5 232.1 342.6 232.5 337.4 233.0 341.4 233.4 344.1 233.8 349.5 234.3 348.4 234.7 348.3 235.2 354.7 235.6 352.0 236.0 339.9 236.5 349.4 236.9 353.4 237.3 353.2 237.8 346.6 238.2 341.9 238.6 341.7 239.1 335.0 239.5 346.4 240.0 344.5 240.4 345.2 240.8 346.9 241.3 338.8 241.7 346.8 242.1 345.4 242.6 351.9 243.0 344.7 243.4 346.1 243.9 351.3 244.3 352.0 244.8 353.8 245.2 349.3 245.6 348.1 246.1 347.4 246.5 349.1 246.9 341.6 247.4 343.2 247.8 343.6 248.2 345.4 248.7 350.4 249.1 343.8" fill="none" stroke="#f5c070" stroke-width="0.5" stroke-linejoin="round" opacity="1"/><path d="M18.3 271.0 18.7 268.7 19.2 271.1 19.6 278.8 20.0 280.2 20.5 281.3 20.9 278.1 21.4 281.9 21.8 283.6 22.2 279.2 22.7 277.6 23.1 286.2 23.5 287.4 24.0 276.8 24.4 271.2 24.8 279.5 25.3 279.9 25.7 291.1 26.2 290.3 26.6 283.8 27.0 289.2 27.5 283.1 27.9 286.8 28.3 278.1 28.8 286.7 29.2 282.7 29.6 283.3 30.1 290.2 30.5 297.0 31.0 282.8 31.4 282.6 31.8 276.6 32.3 269.5 32.7 291.3 33.1 285.9 33.6 291.0 34.0 293.7 34.4 300.7 34.9 299.8 35.3 291.6 35.8 292.9 36.2 302.2 36.6 304.9 37.1 307.9 37.5 305.9 37.9 306.4 38.4 302.6 38.8 309.1 39.2 299.4 39.7 302.4 40.1 302.9 40.6 303.8 41.0 310.9 41.4 300.4 41.9 302.8 42.3 295.7 42.7 300.3 43.2 297.2 43.6 298.3 44.0 302.2 44.5 301.5 44.9 304.0 45.4 312.2 45.8 310.7 46.2 302.7 46.7 308.0 47.1 312.0 47.5 310.4 48.0 304.9 48.4 313.1 48.8 309.9 49.3 307.5 49.7 307.0 50.2 311.5 50.6 321.3 51.0 313.0 51.5 300.6 51.9 296.6 52.3 306.5 52.8 297.6 53.2 299.0 53.6 304.7 54.1 310.8 54.5 309.3 55.0 309.6 55.4 306.6 55.8 314.0 56.3 316.1 56.7 311.2 57.1 313.6 57.6 310.8 58.0 319.4 58.4 314.1 58.9 313.7 59.3 327.8 59.8 325.5 60.2 321.8 60.6 330.4 61.1 329.5 61.5 337.7 61.9 340.3 62.4 343.0 62.8 344.4 63.2 334.9 63.7 344.3 64.1 352.6 64.6 348.9 65.0 342.4 65.4 348.2 65.9 340.7 66.3 339.3 66.7 343.6 67.2 347.4 67.6 349.1 68.0 351.0 68.5 337.5 68.9 340.4 69.4 346.5 69.8 345.2 70.2 343.6 70.7 337.5 71.1 339.3 71.5 344.8 72.0 350.1 72.4 355.4 72.8 348.1 73.3 337.1 73.7 338.1 74.2 330.7 74.6 328.0 75.0 330.3 75.5 344.1 75.9 351.3 76.3 339.0 76.8 343.3 77.2 339.7 77.6 346.9 78.1 341.2 78.5 342.5 79.0 351.8 79.4 359.8 79.8 359.7 80.3 349.1 80.7 343.3 81.1 347.9 81.6 348.8 82.0 342.3 82.4 346.5 82.9 351.7 83.3 345.7 83.7 340.7 84.2 355.4 84.6 350.1 85.1 350.3 85.5 352.5 85.9 341.4 86.4 342.9 86.8 334.8 87.2 340.9 87.7 347.8 88.1 349.3 88.5 344.3 89.0 346.2 89.4 348.0 89.9 347.5 90.3 348.5 90.7 343.4 91.2 351.3 91.6 349.7 92.0 348.5 92.5 342.2 92.9 344.1 93.3 338.7 93.8 345.2 94.2 345.0 94.7 347.6 95.1 345.9 95.5 345.7 96.0 347.4 96.4 349.9 96.8 348.5 97.3 339.2 97.7 346.3 98.1 350.9 98.6 351.9 99.0 347.0 99.5 351.3 99.9 349.6 100.3 349.9 100.8 344.3 101.2 347.1 101.6 342.7 102.1 341.0 102.5 344.7 102.9 349.6 103.4 349.6 103.8 339.6 104.3 338.1 104.7 350.7 105.1 346.4 105.6 350.8 106.0 337.4 106.4 344.1 106.9 353.4 107.3 352.7 107.7 355.0 108.2 354.2 108.6 348.5 109.1 352.0 109.5 343.9 109.9 352.4 110.4 346.8 110.8 355.8 111.2 350.9 111.7 344.7 112.1 348.5 112.5 342.7 113.0 345.0 113.4 337.0 113.9 342.4 114.3 348.8 114.7 350.2 115.2 343.7 115.6 335.9 116.0 339.8 116.5 351.9 116.9 351.1 117.3 356.0 117.8 354.2 118.2 347.1 118.7 357.1 119.1 352.9 119.5 336.4 120.0 344.8 120.4 345.2 120.8 348.1 121.3 346.8 121.7 332.6 122.1 349.4 122.6 349.1 123.0 351.2 123.5 338.0 123.9 360.7 124.3 351.9 124.8 333.1 125.2 335.7 125.6 341.0 126.1 345.1 126.5 352.2 126.9 343.3 127.4 340.7 127.8 340.9 128.3 340.0 128.7 347.2 129.1 346.3 129.6 353.8 130.0 351.4 130.4 349.6 130.9 358.6 131.3 347.2 131.7 348.6 132.2 350.6 132.6 354.0 133.1 346.4 133.5 350.3 133.9 341.7 134.4 346.2 134.8 347.4 135.2 345.5 135.7 338.9 136.1 344.4 136.5 344.2 137.0 345.8 137.4 351.4 137.9 341.4 138.3 347.3 138.7 340.9 139.2 340.9 139.6 346.1 140.0 337.0 140.5 345.8 140.9 355.5 141.3 347.7 141.8 346.6 142.2 346.0 142.7 349.5 143.1 347.1 143.5 345.7 144.0 343.5 144.4 340.9 144.8 340.9 145.3 346.6 145.7 346.4 146.1 331.7 146.6 331.6 147.0 332.2 147.5 352.1 147.9 357.0 148.3 342.9 148.8 344.1 149.2 353.6 149.6 342.0 150.1 345.8 150.5 338.3 150.9 342.3 151.4 340.1 151.8 341.4 152.3 346.4 152.7 349.0 153.1 335.8 153.6 345.1 154.0 348.3 154.4 345.8 154.9 343.1 155.3 348.6 155.7 337.5 156.2 349.2 156.6 361.7 157.1 354.3 157.5 355.4 157.9 355.4 158.4 343.5 158.8 348.0 159.2 347.2 159.7 352.3 160.1 348.1 160.5 349.0 161.0 347.8 161.4 332.3 161.9 340.7 162.3 348.8 162.7 344.0 163.2 342.1 163.6 340.1 164.0 342.4 164.5 347.6 164.9 353.5 165.3 348.7 165.8 346.8 166.2 353.8 166.7 348.5 167.1 344.0 167.5 346.7 168.0 349.1 168.4 346.7 168.8 348.0 169.3 345.1 169.7 341.1 170.1 341.5 170.6 351.9 171.0 348.5 171.5 356.5 171.9 349.8 172.3 349.5 172.8 346.4 173.2 349.6 173.6 347.0 174.1 345.9 174.5 336.1 174.9 342.5 175.4 347.6 175.8 345.7 176.3 337.0 176.7 341.6 177.1 355.3 177.6 356.3 178.0 346.9 178.4 346.5 178.9 347.8 179.3 344.0 179.7 343.7 180.2 344.0 180.6 348.5 181.1 350.0 181.5 344.7 181.9 340.8 182.4 347.8 182.8 345.2 183.2 352.5 183.7 351.2 184.1 352.8 184.5 344.7 185.0 339.5 185.4 343.5 185.9 344.6 186.3 342.1 186.7 334.9 187.2 343.5 187.6 350.8 188.0 350.9 188.5 360.4 188.9 353.8 189.3 345.4 189.8 342.9 190.2 347.5 190.7 352.3 191.1 351.7 191.5 359.6 192.0 346.2 192.4 345.9 192.8 349.3 193.3 339.3 193.7 343.5 194.1 354.4 194.6 346.1 195.0 348.6 195.5 355.8 195.9 343.0 196.3 346.0 196.8 349.6 197.2 339.2 197.6 346.4 198.1 343.8 198.5 350.2 198.9 358.6 199.4 358.4 199.8 344.5 200.3 350.8 200.7 333.0 201.1 356.4 201.6 345.5 202.0 353.5 202.4 346.0 202.9 347.8 203.3 353.1 203.7 344.9 204.2 340.5 204.6 338.9 205.1 338.4 205.5 342.3 205.9 347.0 206.4 342.7 206.8 349.0 207.2 350.0 207.7 358.0 208.1 346.7 208.5 343.1 209.0 346.7 209.4 352.7 209.9 342.6 210.3 342.4 210.7 336.6 211.2 342.6 211.6 339.8 212.0 345.7 212.5 346.8 212.9 347.0 213.3 347.3 213.8 349.5 214.2 344.2 214.7 339.1 215.1 345.8 215.5 339.3 216.0 342.1 216.4 345.5 216.8 340.9 217.3 347.7 217.7 357.9 218.1 345.0 218.6 349.1 219.0 344.2 219.4 327.4 219.9 323.8 220.3 317.0 220.8 340.5 221.2 344.2 221.6 342.1 222.1 338.6 222.5 341.8 222.9 346.9 223.4 349.7 223.8 350.2 224.2 342.9 224.7 345.2 225.1 343.5 225.6 338.7 226.0 352.5 226.4 352.3 226.9 347.0 227.3 347.8 227.7 346.5 228.2 346.5 228.6 356.9 229.0 347.4 229.5 350.3 229.9 354.4 230.4 346.1 230.8 351.3 231.2 342.8 231.7 341.4 232.1 342.3 232.5 345.7 233.0 344.0 233.4 346.1 233.8 341.2 234.3 343.5 234.7 341.6 235.2 340.9 235.6 343.8 236.0 351.0 236.5 342.7 236.9 341.0 237.3 347.5 237.8 358.5 238.2 357.0 238.6 352.3 239.1 343.6 239.5 352.7 240.0 344.6 240.4 347.6 240.8 346.5 241.3 354.8 241.7 350.3 242.1 348.2 242.6 351.9 243.0 348.2 243.4 352.9 243.9 352.8 244.3 350.8 244.8 348.6 245.2 343.0 245.6 341.2 246.1 352.8 246.5 363.8 246.9 350.6 247.4 352.7 247.8 355.1 248.2 347.8 248.7 346.0 249.1 352.3" fill="none" stroke="#e84a40" stroke-width="0.5" stroke-linejoin="round" opacity="1"/><path d="M18.3 313.8 18.7 319.8 19.2 323.1 19.6 317.1 20.0 329.8 20.5 308.4 20.9 312.7 21.4 316.9 21.8 313.6 22.2 315.7 22.7 318.1 23.1 318.3 23.5 325.9 24.0 319.9 24.4 320.9 24.8 326.6 25.3 324.6 25.7 319.0 26.2 319.5 26.6 324.2 27.0 314.4 27.5 320.6 27.9 325.4 28.3 324.2 28.8 317.8 29.2 314.7 29.6 320.6 30.1 323.2 30.5 323.2 31.0 324.1 31.4 326.8 31.8 319.4 32.3 309.2 32.7 312.9 33.1 317.8 33.6 315.3 34.0 315.9 34.4 318.1 34.9 309.9 35.3 312.1 35.8 323.1 36.2 314.3 36.6 312.6 37.1 315.3 37.5 306.8 37.9 308.3 38.4 313.5 38.8 310.0 39.2 306.6 39.7 309.4 40.1 309.2 40.6 308.9 41.0 297.4 41.4 308.6 41.9 308.8 42.3 308.1 42.7 306.3 43.2 313.3 43.6 304.7 44.0 303.7 44.5 304.7 44.9 302.4 45.4 312.0 45.8 304.6 46.2 294.1 46.7 293.3 47.1 292.2 47.5 293.8 48.0 292.1 48.4 291.6 48.8 298.1 49.3 303.4 49.7 306.6 50.2 298.0 50.6 299.7 51.0 304.2 51.5 298.8 51.9 297.5 52.3 294.4 52.8 290.2 53.2 302.7 53.6 299.1 54.1 301.1 54.5 292.5 55.0 284.1 55.4 273.5 55.8 282.1 56.3 290.1 56.7 296.7 57.1 306.6 57.6 310.7 58.0 311.3 58.4 314.3 58.9 314.6 59.3 305.3 59.8 308.2 60.2 310.7 60.6 312.3 61.1 312.9 61.5 307.3 61.9 310.7 62.4 312.4 62.8 314.8 63.2 303.4 63.7 305.5 64.1 314.5 64.6 308.0 65.0 312.6 65.4 312.2 65.9 312.8 66.3 311.2 66.7 308.1 67.2 306.3 67.6 318.5 68.0 313.5 68.5 306.8 68.9 307.5 69.4 307.9 69.8 315.8 70.2 318.9 70.7 309.7 71.1 308.7 71.5 310.0 72.0 313.8 72.4 308.3 72.8 312.3 73.3 312.8 73.7 309.1 74.2 309.3 74.6 303.2 75.0 307.0 75.5 299.2 75.9 297.6 76.3 301.7 76.8 302.2 77.2 306.9 77.6 303.5 78.1 301.4 78.5 296.0 79.0 297.9 79.4 302.7 79.8 303.7 80.3 309.3 80.7 303.2 81.1 303.9 81.6 302.5 82.0 306.8 82.4 302.3 82.9 299.0 83.3 303.1 83.7 295.5 84.2 305.6 84.6 306.0 85.1 305.1 85.5 303.1 85.9 305.1 86.4 305.7 86.8 304.7 87.2 299.9 87.7 300.0 88.1 294.9 88.5 289.8 89.0 308.3 89.4 309.1 89.9 297.6 90.3 303.9 90.7 306.6 91.2 308.1 91.6 303.4 92.0 309.9 92.5 302.0 92.9 298.5 93.3 306.7 93.8 301.4 94.2 304.4 94.7 310.2 95.1 312.1 95.5 308.8 96.0 303.8 96.4 305.2 96.8 302.9 97.3 302.1 97.7 297.0 98.1 292.3 98.6 302.3 99.0 298.6 99.5 307.7 99.9 303.2 100.3 304.7 100.8 296.1 101.2 305.7 101.6 296.4 102.1 301.5 102.5 303.0 102.9 305.1 103.4 304.3 103.8 302.3 104.3 304.1 104.7 304.3 105.1 296.0 105.6 306.9 106.0 307.7 106.4 308.9 106.9 301.9 107.3 301.5 107.7 298.1 108.2 302.2 108.6 296.3 109.1 299.6 109.5 300.8 109.9 300.8 110.4 297.4 110.8 302.1 111.2 303.1 111.7 294.8 112.1 301.8 112.5 304.7 113.0 301.8 113.4 297.2 113.9 312.5 114.3 302.2 114.7 296.2 115.2 297.1 115.6 311.1 116.0 304.6 116.5 301.3 116.9 301.0 117.3 299.9 117.8 294.4 118.2 306.7 118.7 306.3 119.1 303.5 119.5 305.2 120.0 301.0 120.4 306.8 120.8 309.7 121.3 304.0 121.7 308.0 122.1 309.1 122.6 303.3 123.0 306.5 123.5 300.4 123.9 305.2 124.3 310.0 124.8 307.5 125.2 299.1 125.6 301.2 126.1 301.5 126.5 305.8 126.9 301.0 127.4 300.8 127.8 302.1 128.3 312.3 128.7 300.6 129.1 301.8 129.6 303.7 130.0 304.9 130.4 299.6 130.9 303.1 131.3 300.8 131.7 309.6 132.2 309.2 132.6 306.6 133.1 302.0 133.5 302.1 133.9 302.3 134.4 302.5 134.8 306.1 135.2 305.0 135.7 311.2 136.1 302.6 136.5 301.4 137.0 305.6 137.4 296.7 137.9 301.7 138.3 306.4 138.7 307.8 139.2 302.9 139.6 310.7 140.0 303.5 140.5 303.7 140.9 295.1 141.3 295.7 141.8 304.0 142.2 293.1 142.7 303.1 143.1 296.5 143.5 289.3 144.0 297.1 144.4 293.8 144.8 297.9 145.3 299.1 145.7 309.8 146.1 301.6 146.6 303.8 147.0 305.8 147.5 296.5 147.9 306.6 148.3 305.2 148.8 303.5 149.2 303.9 149.6 299.5 150.1 311.3 150.5 299.8 150.9 308.9 151.4 309.0 151.8 301.4 152.3 301.0 152.7 302.9 153.1 306.8 153.6 303.6 154.0 301.4 154.4 298.1 154.9 300.2 155.3 306.4 155.7 305.0 156.2 306.7 156.6 305.2 157.1 296.8 157.5 300.6 157.9 304.9 158.4 298.9 158.8 304.3 159.2 300.7 159.7 298.7 160.1 300.6 160.5 302.9 161.0 300.7 161.4 297.3 161.9 300.4 162.3 293.1 162.7 299.2 163.2 304.9 163.6 299.6 164.0 302.9 164.5 302.9 164.9 296.5 165.3 296.6 165.8 306.0 166.2 305.3 166.7 307.5 167.1 297.8 167.5 309.3 168.0 304.5 168.4 298.3 168.8 309.7 169.3 305.4 169.7 309.9 170.1 309.8 170.6 303.2 171.0 307.5 171.5 306.5 171.9 299.9 172.3 309.9 172.8 297.5 173.2 299.0 173.6 306.2 174.1 307.5 174.5 302.7 174.9 303.4 175.4 307.1 175.8 303.1 176.3 300.2 176.7 302.9 177.1 305.0 177.6 304.2 178.0 302.9 178.4 307.8 178.9 304.3 179.3 306.8 179.7 303.3 180.2 303.1 180.6 301.6 181.1 295.2 181.5 295.2 181.9 306.0 182.4 303.7 182.8 301.1 183.2 304.0 183.7 309.9 184.1 294.8 184.5 296.8 185.0 302.2 185.4 302.7 185.9 306.6 186.3 303.0 186.7 295.4 187.2 295.1 187.6 298.6 188.0 302.5 188.5 305.8 188.9 302.2 189.3 303.4 189.8 304.6 190.2 305.3 190.7 299.3 191.1 306.4 191.5 302.7 192.0 311.2 192.4 310.6 192.8 295.7 193.3 304.8 193.7 301.6 194.1 305.0 194.6 302.9 195.0 297.7 195.5 305.0 195.9 307.8 196.3 311.8 196.8 293.7 197.2 300.6 197.6 301.2 198.1 299.6 198.5 300.1 198.9 302.9 199.4 311.0 199.8 301.4 200.3 301.3 200.7 301.8 201.1 294.5 201.6 297.7 202.0 303.3 202.4 293.4 202.9 293.2 203.3 293.2 203.7 301.3 204.2 309.4 204.6 302.9 205.1 301.9 205.5 307.5 205.9 304.4 206.4 297.5 206.8 303.2 207.2 305.9 207.7 304.8 208.1 304.9 208.5 300.0 209.0 302.3 209.4 300.7 209.9 290.8 210.3 289.9 210.7 302.3 211.2 297.7 211.6 308.4 212.0 301.4 212.5 307.2 212.9 297.1 213.3 297.8 213.8 296.8 214.2 308.2 214.7 302.3 215.1 301.9 215.5 302.8 216.0 307.5 216.4 293.0 216.8 308.3 217.3 310.1 217.7 302.0 218.1 305.7 218.6 309.0 219.0 308.2 219.4 299.1 219.9 292.8 220.3 292.7 220.8 293.7 221.2 299.7 221.6 301.8 222.1 302.5 222.5 308.7 222.9 301.8 223.4 304.2 223.8 303.3 224.2 298.0 224.7 301.1 225.1 301.8 225.6 298.9 226.0 300.6 226.4 297.3 226.9 304.3 227.3 311.9 227.7 305.0 228.2 303.7 228.6 298.5 229.0 305.7 229.5 303.8 229.9 308.6 230.4 306.2 230.8 300.0 231.2 295.7 231.7 297.7 232.1 294.7 232.5 298.1 233.0 295.5 233.4 304.0 233.8 308.9 234.3 308.8 234.7 296.0 235.2 302.6 235.6 297.3 236.0 301.2 236.5 295.8 236.9 300.0 237.3 307.3 237.8 310.1 238.2 307.3 238.6 306.1 239.1 294.8 239.5 300.0 240.0 310.7 240.4 313.3 240.8 312.1 241.3 309.4 241.7 302.0 242.1 315.5 242.6 314.6 243.0 303.0 243.4 302.8 243.9 301.8 244.3 303.9 244.8 298.8 245.2 296.8 245.6 300.9 246.1 302.8 246.5 295.5 246.9 297.3 247.4 298.7 247.8 303.0 248.2 300.9 248.7 305.5 249.1 305.6" fill="none" stroke="#5a5ae6" stroke-width="0.5" stroke-linejoin="round" opacity="1"/><path d="M18.3 319.8 18.7 327.2 19.2 323.4 19.6 327.7 20.0 333.4 20.5 333.7 20.9 330.6 21.4 335.3 21.8 335.2 22.2 342.5 22.7 348.2 23.1 343.2 23.5 343.0 24.0 336.5 24.4 336.8 24.8 339.2 25.3 343.7 25.7 334.2 26.2 339.7 26.6 349.6 27.0 352.7 27.5 351.0 27.9 345.2 28.3 345.4 28.8 338.4 29.2 336.3 29.6 333.9 30.1 353.7 30.5 345.8 31.0 347.2 31.4 351.1 31.8 348.7 32.3 347.4 32.7 346.7 33.1 339.3 33.6 344.4 34.0 346.2 34.4 331.5 34.9 342.7 35.3 342.3 35.8 344.9 36.2 346.6 36.6 342.5 37.1 337.8 37.5 343.6 37.9 344.0 38.4 346.4 38.8 350.2 39.2 331.5 39.7 337.2 40.1 334.3 40.6 338.2 41.0 336.1 41.4 338.0 41.9 337.8 42.3 336.6 42.7 325.3 43.2 324.8 43.6 325.7 44.0 325.4 44.5 330.7 44.9 331.4 45.4 330.6 45.8 332.1 46.2 323.5 46.7 333.7 47.1 335.2 47.5 329.7 48.0 320.6 48.4 324.0 48.8 319.9 49.3 322.8 49.7 318.0 50.2 326.2 50.6 318.7 51.0 317.0 51.5 322.6 51.9 326.4 52.3 321.9 52.8 327.6 53.2 327.3 53.6 318.6 54.1 319.7 54.5 315.0 55.0 313.8 55.4 319.5 55.8 316.9 56.3 321.1 56.7 317.0 57.1 315.4 57.6 306.8 58.0 314.0 58.4 307.1 58.9 312.1 59.3 309.5 59.8 310.2 60.2 304.8 60.6 307.5 61.1 318.6 61.5 320.8 61.9 313.6 62.4 307.1 62.8 308.1 63.2 305.9 63.7 302.1 64.1 305.5 64.6 311.1 65.0 305.9 65.4 302.5 65.9 306.7 66.3 303.4 66.7 310.3 67.2 305.5 67.6 304.3 68.0 312.0 68.5 312.3 68.9 298.6 69.4 299.7 69.8 301.2 70.2 294.8 70.7 296.3 71.1 307.1 71.5 302.6 72.0 298.5 72.4 289.4 72.8 299.6 73.3 294.3 73.7 300.9 74.2 295.0 74.6 296.2 75.0 296.1 75.5 297.3 75.9 292.3 76.3 278.7 76.8 264.3 77.2 271.0 77.6 267.9 78.1 270.8 78.5 273.3 79.0 270.0 79.4 279.5 79.8 281.4 80.3 272.2 80.7 271.4 81.1 269.7 81.6 272.4 82.0 273.6 82.4 278.8 82.9 275.0 83.3 278.9 83.7 283.4 84.2 272.4 84.6 268.9 85.1 274.1 85.5 283.1 85.9 279.6 86.4 269.9 86.8 277.0 87.2 275.8 87.7 272.9 88.1 279.3 88.5 276.5 89.0 278.3 89.4 277.5 89.9 278.4 90.3 281.6 90.7 275.3 91.2 275.4 91.6 267.5 92.0 278.0 92.5 273.3 92.9 279.0 93.3 274.2 93.8 276.3 94.2 278.3 94.7 288.5 95.1 279.5 95.5 277.0 96.0 275.4 96.4 275.0 96.8 274.1 97.3 282.4 97.7 280.6 98.1 277.5 98.6 278.7 99.0 279.4 99.5 273.2 99.9 271.2 100.3 281.0 100.8 284.9 101.2 277.8 101.6 279.6 102.1 278.7 102.5 275.0 102.9 277.8 103.4 277.3 103.8 272.3 104.3 281.5 104.7 276.3 105.1 282.3 105.6 270.7 106.0 280.6 106.4 274.0 106.9 284.3 107.3 278.2 107.7 273.3 108.2 268.7 108.6 272.5 109.1 290.4 109.5 278.5 109.9 279.1 110.4 273.0 110.8 268.0 111.2 284.9 111.7 279.1 112.1 288.2 112.5 277.0 113.0 279.4 113.4 279.6 113.9 279.5 114.3 283.7 114.7 290.2 115.2 283.8 115.6 279.6 116.0 280.1 116.5 279.3 116.9 280.4 117.3 278.2 117.8 286.0 118.2 275.7 118.7 278.2 119.1 287.8 119.5 285.7 120.0 278.8 120.4 270.4 120.8 273.5 121.3 281.7 121.7 281.4 122.1 276.0 122.6 273.7 123.0 275.2 123.5 276.9 123.9 273.9 124.3 275.2 124.8 272.1 125.2 270.3 125.6 284.4 126.1 286.7 126.5 283.8 126.9 281.3 127.4 281.4 127.8 270.7 128.3 283.3 128.7 284.0 129.1 281.7 129.6 281.3 130.0 278.5 130.4 274.5 130.9 272.0 131.3 287.6 131.7 285.0 132.2 283.3 132.6 274.9 133.1 277.0 133.5 288.9 133.9 276.3 134.4 278.4 134.8 276.7 135.2 278.4 135.7 279.9 136.1 276.9 136.5 288.9 137.0 282.3 137.4 280.4 137.9 284.0 138.3 283.4 138.7 289.6 139.2 290.3 139.6 283.5 140.0 285.7 140.5 285.5 140.9 284.8 141.3 282.0 141.8 285.3 142.2 277.4 142.7 285.9 143.1 279.2 143.5 283.9 144.0 276.1 144.4 282.2 144.8 282.2 145.3 275.0 145.7 281.1 146.1 279.6 146.6 275.0 147.0 278.7 147.5 281.2 147.9 279.8 148.3 281.3 148.8 284.8 149.2 282.9 149.6 286.5 150.1 291.0 150.5 276.2 150.9 276.7 151.4 289.4 151.8 277.9 152.3 282.4 152.7 276.5 153.1 283.9 153.6 286.8 154.0 285.9 154.4 288.2 154.9 279.8 155.3 281.9 155.7 275.6 156.2 275.9 156.6 286.9 157.1 283.6 157.5 281.8 157.9 286.0 158.4 279.7 158.8 278.5 159.2 286.7 159.7 290.4 160.1 285.4 160.5 290.3 161.0 287.0 161.4 289.6 161.9 286.6 162.3 283.5 162.7 280.4 163.2 291.6 163.6 281.2 164.0 278.5 164.5 283.0 164.9 288.0 165.3 286.7 165.8 286.6 166.2 282.8 166.7 282.2 167.1 284.6 167.5 282.6 168.0 278.8 168.4 280.8 168.8 279.2 169.3 276.6 169.7 278.3 170.1 278.3 170.6 275.4 171.0 286.4 171.5 287.6 171.9 290.6 172.3 283.8 172.8 284.5 173.2 277.9 173.6 282.7 174.1 285.8 174.5 284.1 174.9 289.4 175.4 277.7 175.8 282.5 176.3 290.5 176.7 287.1 177.1 284.9 177.6 278.6 178.0 288.8 178.4 280.9 178.9 282.8 179.3 285.7 179.7 270.1 180.2 283.4 180.6 298.8 181.1 286.2 181.5 287.0 181.9 287.0 182.4 282.9 182.8 282.2 183.2 289.0 183.7 288.4 184.1 290.4 184.5 290.2 185.0 291.9 185.4 281.8 185.9 287.8 186.3 288.1 186.7 290.8 187.2 286.8 187.6 285.6 188.0 284.1 188.5 286.4 188.9 290.3 189.3 296.1 189.8 280.3 190.2 284.9 190.7 282.8 191.1 287.2 191.5 284.0 192.0 277.7 192.4 272.5 192.8 276.6 193.3 274.1 193.7 277.6 194.1 276.1 194.6 278.8 195.0 281.6 195.5 281.9 195.9 282.8 196.3 272.0 196.8 281.4 197.2 288.8 197.6 281.8 198.1 285.1 198.5 282.4 198.9 285.7 199.4 279.1 199.8 280.0 200.3 283.6 200.7 288.1 201.1 285.2 201.6 291.3 202.0 287.5 202.4 287.2 202.9 286.1 203.3 277.0 203.7 282.9 204.2 283.4 204.6 276.6 205.1 279.9 205.5 282.9 205.9 285.9 206.4 287.8 206.8 284.4 207.2 280.1 207.7 281.2 208.1 276.9 208.5 286.8 209.0 280.4 209.4 282.7 209.9 275.7 210.3 289.3 210.7 282.7 211.2 281.2 211.6 285.5 212.0 277.1 212.5 281.9 212.9 284.1 213.3 279.6 213.8 282.9 214.2 287.5 214.7 285.2 215.1 286.5 215.5 280.9 216.0 284.9 216.4 279.4 216.8 285.4 217.3 288.3 217.7 280.1 218.1 287.8 218.6 284.6 219.0 293.9 219.4 289.6 219.9 284.2 220.3 284.9 220.8 282.1 221.2 280.8 221.6 267.3 222.1 265.7 222.5 264.7 222.9 267.0 223.4 270.5 223.8 272.6 224.2 280.3 224.7 282.6 225.1 281.9 225.6 281.5 226.0 278.1 226.4 279.8 226.9 294.4 227.3 284.6 227.7 288.5 228.2 291.5 228.6 293.6 229.0 290.8 229.5 286.1 229.9 286.4 230.4 287.1 230.8 279.4 231.2 273.0 231.7 272.9 232.1 283.1 232.5 282.1 233.0 291.0 233.4 283.9 233.8 283.6 234.3 276.1 234.7 277.6 235.2 279.1 235.6 279.2 236.0 276.1 236.5 282.0 236.9 285.4 237.3 285.4 237.8 289.0 238.2 283.8 238.6 298.6 239.1 294.4 239.5 271.1 240.0 285.0 240.4 281.2 240.8 281.0 241.3 280.0 241.7 283.0 242.1 284.1 242.6 280.6 243.0 281.3 243.4 285.0 243.9 283.7 244.3 283.2 244.8 274.1 245.2 282.7 245.6 281.3 246.1 288.7 246.5 298.0 246.9 289.9 247.4 287.7 247.8 290.9 248.2 286.1 248.7 278.6 249.1 288.5" fill="none" stroke="#62aa62" stroke-width="0.5" stroke-linejoin="round" opacity="1"/><path d="M18.3 257V373.3H249.3" fill="none" stroke="#9a9a9a" stroke-width="0.7"/><path d="M16.8 362.52H18.3" stroke="#9a9a9a" stroke-width="0.5"/><text x="16.1" y="364.12" font-size="4.6" fill="#141414" text-anchor="end">3</text><path d="M16.8 347.76H18.3" stroke="#9a9a9a" stroke-width="0.5"/><text x="16.1" y="349.36" font-size="4.6" fill="#141414" text-anchor="end">4</text><path d="M16.8 333.00H18.3" stroke="#9a9a9a" stroke-width="0.5"/><text x="16.1" y="334.60" font-size="4.6" fill="#141414" text-anchor="end">5</text><path d="M16.8 318.24H18.3" stroke="#9a9a9a" stroke-width="0.5"/><text x="16.1" y="319.84" font-size="4.6" fill="#141414" text-anchor="end">6</text><path d="M16.8 303.48H18.3" stroke="#9a9a9a" stroke-width="0.5"/><text x="16.1" y="305.08" font-size="4.6" fill="#141414" text-anchor="end">7</text><path d="M16.8 288.72H18.3" stroke="#9a9a9a" stroke-width="0.5"/><text x="16.1" y="290.32" font-size="4.6" fill="#141414" text-anchor="end">8</text><path d="M16.8 273.96H18.3" stroke="#9a9a9a" stroke-width="0.5"/><text x="16.1" y="275.56" font-size="4.6" fill="#141414" text-anchor="end">9</text><path d="M16.8 259.20H18.3" stroke="#9a9a9a" stroke-width="0.5"/><text x="16.1" y="260.80" font-size="4.6" fill="#141414" text-anchor="end">10</text><path d="M18.30 373.3V374.8" stroke="#9a9a9a" stroke-width="0.5"/><text x="18.30" y="379.6" font-size="4.6" fill="#141414" text-anchor="middle">0</text><path d="M43.97 373.3V374.8" stroke="#9a9a9a" stroke-width="0.5"/><text x="43.97" y="379.6" font-size="4.6" fill="#141414" text-anchor="middle">50</text><path d="M69.63 373.3V374.8" stroke="#9a9a9a" stroke-width="0.5"/><text x="69.63" y="379.6" font-size="4.6" fill="#141414" text-anchor="middle">100</text><path d="M95.30 373.3V374.8" stroke="#9a9a9a" stroke-width="0.5"/><text x="95.30" y="379.6" font-size="4.6" fill="#141414" text-anchor="middle">150</text><path d="M120.97 373.3V374.8" stroke="#9a9a9a" stroke-width="0.5"/><text x="120.97" y="379.6" font-size="4.6" fill="#141414" text-anchor="middle">200</text><path d="M146.63 373.3V374.8" stroke="#9a9a9a" stroke-width="0.5"/><text x="146.63" y="379.6" font-size="4.6" fill="#141414" text-anchor="middle">250</text><path d="M172.30 373.3V374.8" stroke="#9a9a9a" stroke-width="0.5"/><text x="172.30" y="379.6" font-size="4.6" fill="#141414" text-anchor="middle">300</text><path d="M197.97 373.3V374.8" stroke="#9a9a9a" stroke-width="0.5"/><text x="197.97" y="379.6" font-size="4.6" fill="#141414" text-anchor="middle">350</text><path d="M223.63 373.3V374.8" stroke="#9a9a9a" stroke-width="0.5"/><text x="223.63" y="379.6" font-size="4.6" fill="#141414" text-anchor="middle">400</text><path d="M249.30 373.3V374.8" stroke="#9a9a9a" stroke-width="0.5"/><text x="249.30" y="379.6" font-size="4.6" fill="#141414" text-anchor="middle">450</text><text x="133.4" y="388.7" font-size="4.9" fill="#141414" text-anchor="middle">Time (ns)</text><g transform="translate(6.4,318.6) rotate(-90)"><text x="0" y="0" font-size="4.9" fill="#141414" text-anchor="middle">Distance (Å)</text></g><text x="-0.8" y="253.4" font-size="11" font-weight="bold" fill="#000">F</text><path d="M256.4 287.50H263.1" stroke="#f5c94a" stroke-width="1.5"/><text x="267" y="289.30" font-size="5.0" fill="#141414">RumI<tspan font-size="3.5" dy="1">,</tspan><tspan dy="-1">1 C145 - H234</tspan></text><path d="M256.4 298.37H263.1" stroke="#d4d4d4" stroke-width="1.5"/><text x="267" y="300.17" font-size="5.0" fill="#141414">RumI<tspan font-size="3.5" dy="1">,</tspan><tspan dy="-1">1 H234 - D250 (OD1)</tspan></text><path d="M256.4 309.24H263.1" stroke="#d4d4d4" stroke-width="1.5"/><text x="267" y="311.04" font-size="5.0" fill="#141414">RumI<tspan font-size="3.5" dy="1">,</tspan><tspan dy="-1">1 H234 - D250 (OD2)</tspan></text><path d="M256.4 320.11H263.1" stroke="#ee3434" stroke-width="1.5"/><text x="267" y="321.91" font-size="5.0" fill="#141414">RumI<tspan font-size="3.5" dy="1">,</tspan><tspan dy="-1">1 C145 - Pentapeptide D-Ala</tspan><tspan font-size="3.3" dy="-1.8">5</tspan></text><path d="M256.4 330.98H263.1" stroke="#3434e6" stroke-width="1.5"/><text x="267" y="332.78" font-size="5.0" fill="#141414">RumI<tspan font-size="3.5" dy="1">,</tspan><tspan dy="-1">1 C145 - Pentapeptide D-Ala</tspan><tspan font-size="3.3" dy="-1.8">4</tspan></text><path d="M256.4 341.85H263.1" stroke="#74b774" stroke-width="1.5"/><text x="267" y="343.65" font-size="5.0" fill="#141414">RumI<tspan font-size="3.5" dy="1">,</tspan><tspan dy="-1">1 C145 - Pentapeptide L-Lys</tspan></text><text x="167.3" y="121.5" font-size="10.6" fill="#000" style="stroke:#000;stroke-width:0.3px">E</text><path d="M170.50 147.00C170.92 146.50 171.75 144.33 173.00 144.00C174.25 143.67 175.83 144.50 178.00 145.00C180.17 145.50 184.67 146.67 186.00 147.00" fill="none" stroke="#6a6a6a" stroke-width="0.7" stroke-linecap="round"/><path d="M202.00 133.00C203.00 133.50 206.17 134.92 208.00 136.00C209.83 137.08 210.67 138.42 213.00 139.50C215.33 140.58 220.50 142.00 222.00 142.50" fill="none" stroke="#777" stroke-width="0.6" stroke-linecap="round"/><path d="M211.50 145.50C212.92 144.42 217.00 141.15 220.00 139.00C223.00 136.85 227.92 133.67 229.50 132.60" fill="none" stroke="#555" stroke-width="0.7" stroke-linecap="round"/><path d="M181.00 169.00C181.50 170.00 182.33 173.50 184.00 175.00C185.67 176.50 188.67 177.83 191.00 178.00C193.33 178.17 196.83 176.33 198.00 176.00" fill="none" stroke="#777" stroke-width="0.6" stroke-linecap="round"/><path d="M236.00 154.00C236.83 154.67 240.67 156.33 241.00 158.00C241.33 159.67 238.50 163.00 238.00 164.00" fill="none" stroke="#777" stroke-width="0.6" stroke-linecap="round"/><path d="M187.50 210.00C187.75 209.25 187.75 206.50 189.00 205.50C190.25 204.50 193.25 203.75 195.00 204.00C196.75 204.25 198.75 206.50 199.50 207.00" fill="none" stroke="#777" stroke-width="0.6" stroke-linecap="round"/><path d="M222.00 210.00C223.25 211.00 229.00 213.75 229.50 216.00C230.00 218.25 227.25 222.00 225.00 223.50C222.75 225.00 217.50 224.75 216.00 225.00" fill="none" stroke="#888" stroke-width="0.6" stroke-linecap="round"/><path d="M204.00 225.00C202.83 225.50 198.42 226.50 197.00 228.00C195.58 229.50 195.00 232.25 195.50 234.00C196.00 235.75 198.08 237.75 200.00 238.50C201.92 239.25 205.17 239.42 207.00 238.50C208.83 237.58 210.67 234.92 211.00 233.00C211.33 231.08 209.33 228.00 209.00 227.00" fill="none" stroke="#777" stroke-width="0.6" stroke-linecap="round"/><path d="M205.00 178.00C204.17 179.00 201.50 182.00 200.00 184.00C198.50 186.00 196.67 188.00 196.00 190.00C195.33 192.00 196.00 195.00 196.00 196.00" fill="none" stroke="#888" stroke-width="0.5" stroke-linecap="round"/><path d="M222.00 174.00C223.17 174.67 227.50 176.00 229.00 178.00C230.50 180.00 231.33 183.67 231.00 186.00C230.67 188.33 227.67 191.00 227.00 192.00" fill="none" stroke="#888" stroke-width="0.5" stroke-linecap="round"/><path d="M186.00 181.00C185.67 182.17 183.67 186.00 184.00 188.00C184.33 190.00 186.17 192.00 188.00 193.00C189.83 194.00 193.83 193.83 195.00 194.00" fill="none" stroke="#888" stroke-width="0.5" stroke-linecap="round"/><path d="M232.00 160.00C232.67 162.67 235.67 171.67 236.00 176.00C236.33 180.33 235.17 183.67 234.00 186.00C232.83 188.33 229.83 189.33 229.00 190.00" fill="none" stroke="#999" stroke-width="0.5" stroke-linecap="round"/><path d="M171.10 151.00 L172.19 150.95 L173.61 150.85 L175.24 150.73 L177.02 150.62 L178.87 150.56 L180.71 150.58 L182.44 150.70 L184.00 150.95 L185.56 151.34 L187.24 151.85 L188.94 152.45 L190.63 153.14 L192.27 153.90 L193.81 154.71 L195.22 155.58 L196.42 156.44 L197.48 157.41 L198.52 158.61 L199.52 159.99 L199.42 162.12 L201.08 163.06 L202.67 163.95 L204.16 164.64 L205.50 165.00 L205.50 165.00 L205.76 163.67 L205.92 162.07 L205.92 160.21 L205.77 158.13 L203.64 157.15 L202.43 155.50 L201.07 153.93 L199.58 152.56 L197.98 151.41 L196.28 150.37 L194.49 149.42 L192.62 148.55 L190.71 147.78 L188.80 147.10 L186.90 146.52 L185.00 146.05 L183.00 145.73 L180.91 145.58 L178.81 145.56 L176.79 145.63 L174.91 145.74 L173.24 145.87 L171.90 145.96 L170.90 146.00Z" fill="#ececec" stroke="#707070" stroke-width="0.5" stroke-linejoin="round"/><path d="M174.77 154.48 L175.64 154.62 L176.80 154.78 L178.16 154.96 L179.65 155.17 L181.21 155.42 L182.76 155.71 L184.22 156.05 L185.54 156.43 L186.80 156.87 L188.08 157.36 L189.35 157.89 L190.59 158.47 L191.80 159.09 L192.96 159.75 L194.06 160.45 L195.07 161.18 L196.04 162.01 L197.03 163.00 L198.01 164.11 L198.37 165.72 L199.69 166.49 L200.92 167.18 L202.04 167.71 L203.00 168.00 L203.00 168.00 L202.92 167.01 L202.71 165.81 L202.35 164.42 L201.88 162.90 L200.29 162.16 L199.22 160.95 L198.09 159.81 L196.93 158.82 L195.74 157.97 L194.51 157.18 L193.23 156.45 L191.91 155.78 L190.56 155.15 L189.20 154.58 L187.83 154.05 L186.46 153.57 L184.97 153.14 L183.37 152.77 L181.72 152.46 L180.10 152.20 L178.57 151.99 L177.20 151.80 L176.07 151.65 L175.23 151.52Z" fill="#dadada" stroke="#808080" stroke-width="0.5" stroke-linejoin="round"/><path d="M205.21 166.47 L205.51 165.70 L205.91 164.67 L206.38 163.45 L206.90 162.10 L207.46 160.67 L208.04 159.23 L208.62 157.83 L209.19 156.53 L209.76 155.26 L210.36 153.95 L210.98 152.63 L211.61 151.32 L212.24 150.05 L212.87 148.83 L213.50 147.71 L214.11 146.68 L214.70 145.75 L215.29 144.88 L215.87 144.09 L216.44 143.36 L217.02 142.69 L217.59 142.08 L218.19 141.53 L218.78 141.04 L219.41 140.62 L220.51 141.05 L221.12 140.39 L221.79 139.76 L222.48 139.15 L223.12 138.57 L223.65 138.02 L224.00 137.50 L224.00 137.50 L223.41 137.32 L222.68 137.17 L221.81 137.06 L220.83 136.99 L219.76 137.00 L218.63 137.09 L218.08 138.38 L217.22 138.96 L216.47 139.58 L215.77 140.24 L215.09 140.95 L214.43 141.71 L213.79 142.52 L213.16 143.39 L212.53 144.32 L211.89 145.32 L211.24 146.41 L210.58 147.60 L209.92 148.87 L209.27 150.18 L208.63 151.52 L208.00 152.86 L207.39 154.18 L206.81 155.47 L206.23 156.81 L205.63 158.24 L205.04 159.71 L204.48 161.15 L203.95 162.52 L203.48 163.74 L203.09 164.76 L202.79 165.53Z" fill="#a0a0a0" stroke="#444" stroke-width="0.5" stroke-linejoin="round"/><path d="M210.04 170.35 L210.27 169.65 L210.58 168.73 L210.95 167.63 L211.36 166.41 L211.79 165.12 L212.22 163.81 L212.65 162.53 L213.05 161.34 L213.41 160.17 L213.76 158.98 L214.10 157.79 L214.43 156.62 L214.78 155.49 L215.14 154.42 L215.54 153.42 L215.97 152.52 L216.48 151.67 L217.10 150.82 L217.78 149.98 L218.90 149.55 L219.30 148.53 L219.65 147.58 L219.90 146.72 L220.00 146.00 L220.00 146.00 L219.30 146.16 L218.46 146.43 L217.51 146.82 L216.47 147.32 L216.11 148.55 L215.35 149.48 L214.65 150.46 L214.03 151.48 L213.52 152.54 L213.08 153.66 L212.68 154.82 L212.32 156.00 L211.98 157.19 L211.65 158.38 L211.31 159.54 L210.95 160.66 L210.56 161.84 L210.14 163.11 L209.70 164.42 L209.27 165.71 L208.86 166.94 L208.50 168.03 L208.19 168.96 L207.96 169.65Z" fill="#b8b8b8" stroke="#555" stroke-width="0.5" stroke-linejoin="round"/><path d="M211.27 212.98 L211.66 212.47 L212.15 211.79 L212.71 211.00 L213.34 210.15 L214.00 209.30 L214.68 208.50 L215.35 207.81 L215.96 207.28 L216.63 206.84 L217.46 206.41 L218.40 206.00 L219.37 205.62 L220.33 205.28 L221.21 204.98 L221.99 204.72 L222.57 204.50 L221.43 201.50 L220.91 201.71 L220.18 201.95 L219.27 202.26 L218.25 202.63 L217.17 203.05 L216.08 203.53 L215.02 204.08 L214.04 204.72 L213.14 205.49 L212.30 206.36 L211.52 207.28 L210.79 208.22 L210.13 209.12 L209.55 209.92 L209.09 210.56 L208.73 211.02Z" fill="#e0e0e0" stroke="#999" stroke-width="0.5" stroke-linejoin="round"/><path d="M219.92 188.71 L220.16 189.41 L220.48 190.36 L220.87 191.48 L221.29 192.71 L221.73 194.00 L222.16 195.29 L222.55 196.52 L222.90 197.65 L223.24 198.74 L223.60 199.82 L223.96 200.85 L224.27 201.83 L224.53 202.73 L224.71 203.54 L224.80 204.25 L224.81 204.81 L224.72 205.33 L224.50 205.94 L224.16 206.63 L223.75 207.36 L223.29 208.07 L222.83 208.74 L222.41 209.37 L222.11 209.88 L225.89 212.12 L226.12 211.73 L226.48 211.20 L226.96 210.49 L227.50 209.64 L228.06 208.69 L228.56 207.62 L228.97 206.45 L229.19 205.19 L229.19 203.95 L229.04 202.78 L228.79 201.65 L228.48 200.55 L228.13 199.47 L227.77 198.41 L227.42 197.38 L227.10 196.35 L226.75 195.20 L226.34 193.93 L225.90 192.60 L225.46 191.29 L225.03 190.04 L224.64 188.92 L224.32 187.99 L224.08 187.29Z" fill="#eeeeee" stroke="#999" stroke-width="0.5" stroke-linejoin="round"/><path d="M185.53 187.42 L185.99 187.58 L186.60 187.78 L187.34 188.03 L188.15 188.30 L189.01 188.59 L189.89 188.88 L190.73 189.16 L191.53 189.42 L192.32 189.69 L193.17 189.97 L194.04 190.26 L194.90 190.55 L195.39 191.80 L196.39 191.24 L197.27 190.65 L198.00 190.00 L198.00 190.00 L197.80 189.05 L197.46 188.04 L196.99 187.00 L195.85 187.70 L194.99 187.41 L194.11 187.12 L193.27 186.84 L192.47 186.58 L191.68 186.31 L190.83 186.03 L189.96 185.74 L189.10 185.45 L188.28 185.18 L187.55 184.94 L186.94 184.73 L186.47 184.58Z" fill="#dedede" stroke="#888" stroke-width="0.5" stroke-linejoin="round"/><path d="M188.34 134.61 187.95 135.05 187.71 135.62 187.63 136.30 187.71 137.04 187.97 137.82 188.39 138.60 188.96 139.34 189.68 140.02 190.52 140.60 191.45 141.05 192.44 141.36 193.47 141.50 194.48 141.46 195.47 141.25 196.38 140.86 197.20 140.30M193.31 130.60 192.93 131.05 192.70 131.63 192.63 132.31 192.72 133.06 192.99 133.84 193.43 134.62 194.02 135.36 194.74 136.03 195.59 136.60 196.52 137.04 197.52 137.34 198.54 137.46 199.56 137.41 200.54 137.19 201.45 136.78 202.26 136.22M198.27 126.59 197.91 127.05 197.69 127.64 197.63 128.33" fill="none" stroke="#505050" stroke-width="2.13" stroke-linecap="round" stroke-linejoin="round" opacity="0.85"/><path d="M192.14 144.39 192.85 143.70 193.41 142.88 193.81 141.95 194.05 140.96 194.11 139.93 194.01 138.89 193.75 137.89 193.35 136.96 192.83 136.12 192.22 135.41 191.54 134.85 190.83 134.45 190.13 134.22 189.45 134.18 188.85 134.31 188.34 134.61M197.20 140.30 197.89 139.60 198.45 138.77 198.84 137.84 199.06 136.84 199.11 135.81 199.00 134.78 198.73 133.78 198.32 132.85 197.79 132.03 197.17 131.32 196.49 130.77 195.78 130.39 195.07 130.18 194.40 130.14 193.81 130.29 193.31 130.60M202.26 136.22 202.94 135.50 203.48 134.66 203.86 133.73 204.07 132.72 204.11 131.69 203.98 130.66 203.70 129.67 203.28 128.75 202.74 127.93 202.12 127.24 201.43 126.70 200.72 126.33 200.02 126.13 199.36 126.11 198.76 126.27 198.27 126.59" fill="none" stroke="#505050" stroke-width="3.36" stroke-linecap="butt" stroke-linejoin="round"/><path d="M192.14 144.39 192.85 143.70 193.41 142.88 193.81 141.95 194.05 140.96 194.11 139.93 194.01 138.89 193.75 137.89 193.35 136.96 192.83 136.12 192.22 135.41 191.54 134.85 190.83 134.45 190.13 134.22 189.45 134.18 188.85 134.31 188.34 134.61M197.20 140.30 197.89 139.60 198.45 138.77 198.84 137.84 199.06 136.84 199.11 135.81 199.00 134.78 198.73 133.78 198.32 132.85 197.79 132.03 197.17 131.32 196.49 130.77 195.78 130.39 195.07 130.18 194.40 130.14 193.81 130.29 193.31 130.60M202.26 136.22 202.94 135.50 203.48 134.66 203.86 133.73 204.07 132.72 204.11 131.69 203.98 130.66 203.70 129.67 203.28 128.75 202.74 127.93 202.12 127.24 201.43 126.70 200.72 126.33 200.02 126.13 199.36 126.11 198.76 126.27 198.27 126.59" fill="none" stroke="#e4e4e4" stroke-width="2.45" stroke-linecap="butt" stroke-linejoin="round"/><path d="M184.47 155.96 183.93 155.83 183.35 155.89 182.74 156.14 182.15 156.57 181.61 157.16 181.14 157.91 180.77 158.78 180.53 159.74 180.43 160.76 180.48 161.81 180.69 162.85 181.07 163.84 181.60 164.74 182.27 165.54 183.07 166.19 183.96 166.68M191.36 159.02 190.81 158.91 190.22 158.98 189.62 159.24 189.03 159.69 188.49 160.29 188.03 161.05 187.67 161.93 187.44 162.89 187.35 163.92 187.41 164.97 187.64 166.01 188.03 166.99 188.57 167.89 189.25 168.67 190.05 169.31 190.96 169.78M198.24 162.08 197.69 161.99 197.10 162.07 196.49 162.35" fill="none" stroke="#6a6a6a" stroke-width="2.13" stroke-linecap="round" stroke-linejoin="round" opacity="0.85"/><path d="M176.97 163.57 177.94 163.89 178.96 164.04 180.00 163.99 181.02 163.76 182.00 163.36 182.91 162.82 183.72 162.15 184.40 161.38 184.94 160.55 185.33 159.69 185.55 158.85 185.62 158.05 185.53 157.33 185.29 156.73 184.94 156.26 184.47 155.96M183.96 166.68 184.94 166.99 185.96 167.12 187.00 167.05 188.02 166.81 189.00 166.40 189.90 165.85 190.70 165.17 191.37 164.39 191.90 163.56 192.27 162.70 192.48 161.86 192.54 161.07 192.44 160.36 192.19 159.76 191.83 159.31 191.36 159.02M190.96 169.78 191.94 170.08 192.97 170.19 194.00 170.12 195.02 169.86 196.00 169.44 196.89 168.88 197.68 168.19 198.34 167.41 198.85 166.57 199.22 165.72 199.42 164.88 199.46 164.09 199.35 163.39 199.09 162.80 198.72 162.36 198.24 162.08" fill="none" stroke="#6a6a6a" stroke-width="3.36" stroke-linecap="butt" stroke-linejoin="round"/><path d="M176.97 163.57 177.94 163.89 178.96 164.04 180.00 163.99 181.02 163.76 182.00 163.36 182.91 162.82 183.72 162.15 184.40 161.38 184.94 160.55 185.33 159.69 185.55 158.85 185.62 158.05 185.53 157.33 185.29 156.73 184.94 156.26 184.47 155.96M183.96 166.68 184.94 166.99 185.96 167.12 187.00 167.05 188.02 166.81 189.00 166.40 189.90 165.85 190.70 165.17 191.37 164.39 191.90 163.56 192.27 162.70 192.48 161.86 192.54 161.07 192.44 160.36 192.19 159.76 191.83 159.31 191.36 159.02M190.96 169.78 191.94 170.08 192.97 170.19 194.00 170.12 195.02 169.86 196.00 169.44 196.89 168.88 197.68 168.19 198.34 167.41 198.85 166.57 199.22 165.72 199.42 164.88 199.46 164.09 199.35 163.39 199.09 162.80 198.72 162.36 198.24 162.08" fill="none" stroke="#e0e0e0" stroke-width="2.45" stroke-linecap="butt" stroke-linejoin="round"/><path d="M224.19 146.36 223.72 146.76 223.34 147.32 223.08 148.03 222.96 148.86 223.00 149.77 223.19 150.73 223.55 151.69 224.06 152.62 224.72 153.49 225.50 154.25 226.40 154.87 227.38 155.33 228.41 155.62 229.47 155.71 230.52 155.60 231.53 155.30M231.69 144.86 231.22 145.26 230.84 145.82 230.58 146.53 230.46 147.36 230.50 148.27 230.69 149.23 231.05 150.19 231.56 151.12 232.22 151.99 233.00 152.75 233.90 153.37 234.88 153.83 235.91 154.12 236.97 154.21 238.02 154.10" fill="none" stroke="#5a5a5a" stroke-width="2.13" stroke-linecap="round" stroke-linejoin="round" opacity="0.85"/><path d="M223.02 157.10 224.03 156.80 224.97 156.30 225.82 155.65 226.54 154.84 227.13 153.92 227.57 152.92 227.84 151.87 227.95 150.81 227.91 149.78 227.72 148.83 227.40 147.97 226.98 147.26 226.47 146.70 225.90 146.32 225.31 146.14 224.73 146.15 224.19 146.36M231.53 155.30 232.47 154.80 233.32 154.15 234.04 153.34 234.63 152.42 235.07 151.42 235.34 150.37 235.45 149.31 235.41 148.28 235.22 147.33 234.90 146.47 234.48 145.76 233.97 145.20 233.40 144.82 232.81 144.64 232.23 144.65 231.69 144.86" fill="none" stroke="#5a5a5a" stroke-width="3.36" stroke-linecap="butt" stroke-linejoin="round"/><path d="M223.02 157.10 224.03 156.80 224.97 156.30 225.82 155.65 226.54 154.84 227.13 153.92 227.57 152.92 227.84 151.87 227.95 150.81 227.91 149.78 227.72 148.83 227.40 147.97 226.98 147.26 226.47 146.70 225.90 146.32 225.31 146.14 224.73 146.15 224.19 146.36M231.53 155.30 232.47 154.80 233.32 154.15 234.04 153.34 234.63 152.42 235.07 151.42 235.34 150.37 235.45 149.31 235.41 148.28 235.22 147.33 234.90 146.47 234.48 145.76 233.97 145.20 233.40 144.82 232.81 144.64 232.23 144.65 231.69 144.86" fill="none" stroke="#e6e6e6" stroke-width="2.45" stroke-linecap="butt" stroke-linejoin="round"/><path d="M221.02 155.76 220.71 155.42 220.26 155.18 219.69 155.07 219.03 155.10 218.31 155.28 217.55 155.61 216.81 156.09 216.10 156.71 215.46 157.45 214.93 158.31 214.53 159.24 214.27 160.22 214.18 161.24 214.26 162.25 214.51 163.22 214.93 164.13M224.83 163.42 224.47 163.10 223.98 162.90 223.37 162.84 222.68 162.92 221.95 163.15 221.19 163.53 220.45 164.06 219.77 164.72 219.16 165.51" fill="none" stroke="#333" stroke-width="2.43" stroke-linecap="round" stroke-linejoin="round" opacity="0.85"/><path d="M210.89 156.06 211.41 156.91 212.09 157.66 212.88 158.29 213.78 158.77 214.74 159.11 215.74 159.29 216.73 159.33 217.70 159.22 218.59 158.99 219.39 158.64 220.06 158.21 220.59 157.73 220.95 157.21 221.15 156.69 221.17 156.20 221.02 155.76M214.93 164.13 215.51 164.95 216.23 165.66 217.06 166.24 217.98 166.68 218.96 166.97 219.96 167.10 220.95 167.09 221.89 166.93 222.76 166.66 223.52 166.29 224.14 165.83 224.62 165.33 224.93 164.81 225.07 164.30 225.03 163.82 224.83 163.42" fill="none" stroke="#333" stroke-width="3.74" stroke-linecap="butt" stroke-linejoin="round"/><path d="M210.89 156.06 211.41 156.91 212.09 157.66 212.88 158.29 213.78 158.77 214.74 159.11 215.74 159.29 216.73 159.33 217.70 159.22 218.59 158.99 219.39 158.64 220.06 158.21 220.59 157.73 220.95 157.21 221.15 156.69 221.17 156.20 221.02 155.76M214.93 164.13 215.51 164.95 216.23 165.66 217.06 166.24 217.98 166.68 218.96 166.97 219.96 167.10 220.95 167.09 221.89 166.93 222.76 166.66 223.52 166.29 224.14 165.83 224.62 165.33 224.93 164.81 225.07 164.30 225.03 163.82 224.83 163.42" fill="none" stroke="#bdbdbd" stroke-width="2.80" stroke-linecap="butt" stroke-linejoin="round"/><path d="M232.28 164.51 231.77 164.66 231.30 165.00 230.90 165.50 230.60 166.15 230.42 166.92 230.37 167.79 230.46 168.70 230.71 169.64 231.11 170.56 231.65 171.42 232.32 172.20 233.10 172.86 233.98 173.37 234.92 173.71 235.90 173.87 236.90 173.85M239.40 164.12 238.90 164.34 238.45 164.73 238.08 165.29 237.82 165.98 237.68 166.79 237.67 167.67 237.82 168.60 238.12 169.53 238.56 170.44 239.15 171.28 239.86 172.02 240.68 172.63 241.58 173.08 242.54 173.37 243.53 173.47 244.51 173.38" fill="none" stroke="#2a2a2a" stroke-width="2.43" stroke-linecap="round" stroke-linejoin="round" opacity="0.85"/><path d="M229.27 174.29 230.25 174.14 231.19 173.81 232.07 173.31 232.85 172.65 233.51 171.87 234.04 171.00 234.43 170.06 234.67 169.10 234.76 168.15 234.70 167.24 234.51 166.42 234.21 165.72 233.81 165.16 233.33 164.76 232.81 164.54 232.28 164.51M236.90 173.85 237.87 173.63 238.79 173.24 239.63 172.69 240.37 171.99 241.00 171.17 241.48 170.27 241.82 169.32 242.01 168.36 242.05 167.42 241.95 166.54 241.72 165.76 241.37 165.10 240.95 164.59 240.45 164.25 239.93 164.09 239.40 164.12M244.51 173.38 245.47 173.11 246.37 172.66 247.18 172.05 247.89 171.31 248.46 170.46 248.90 169.54 249.19 168.58 249.33 167.63 249.32 166.70 249.17 165.85 248.90 165.11 248.53 164.49" fill="none" stroke="#2a2a2a" stroke-width="3.74" stroke-linecap="butt" stroke-linejoin="round"/><path d="M229.27 174.29 230.25 174.14 231.19 173.81 232.07 173.31 232.85 172.65 233.51 171.87 234.04 171.00 234.43 170.06 234.67 169.10 234.76 168.15 234.70 167.24 234.51 166.42 234.21 165.72 233.81 165.16 233.33 164.76 232.81 164.54 232.28 164.51M236.90 173.85 237.87 173.63 238.79 173.24 239.63 172.69 240.37 171.99 241.00 171.17 241.48 170.27 241.82 169.32 242.01 168.36 242.05 167.42 241.95 166.54 241.72 165.76 241.37 165.10 240.95 164.59 240.45 164.25 239.93 164.09 239.40 164.12M244.51 173.38 245.47 173.11 246.37 172.66 247.18 172.05 247.89 171.31 248.46 170.46 248.90 169.54 249.19 168.58 249.33 167.63 249.32 166.70 249.17 165.85 248.90 165.11 248.53 164.49" fill="none" stroke="#cccccc" stroke-width="2.80" stroke-linecap="butt" stroke-linejoin="round"/><path d="M197.02 209.05 196.50 208.76 195.87 208.65 195.16 208.74 194.40 209.02 193.63 209.49 192.89 210.15 192.23 210.97 191.66 211.93 191.23 213.00 190.95 214.15 190.86 215.34 190.95 216.52 191.24 217.67 191.72 218.74 192.37 219.70 193.20 220.52M203.53 215.18 202.97 214.95 202.31 214.91 201.57 215.06 200.81 215.40 200.05 215.94 199.33 216.65 198.69 217.52 198.17 218.53 197.78 219.63 197.57 220.79 197.53 221.98 197.69 223.16 198.04 224.29 198.58 225.32 199.30 226.24 200.17 227.01" fill="none" stroke="#808080" stroke-width="1.98" stroke-linecap="round" stroke-linejoin="round" opacity="0.85"/><path d="M186.24 214.01 187.16 214.72 188.19 215.26 189.32 215.60 190.49 215.75 191.68 215.70 192.85 215.47 193.95 215.07 194.96 214.52 195.83 213.86 196.56 213.12 197.10 212.33 197.46 211.54 197.63 210.77 197.60 210.08 197.40 209.50 197.02 209.05M193.20 220.52 194.16 221.17 195.23 221.64 196.37 221.92 197.56 222.00 198.74 221.89 199.89 221.60 200.96 221.15 201.93 220.56 202.76 219.87 203.43 219.11 203.91 218.31 204.21 217.53 204.31 216.79 204.22 216.13 203.96 215.58 203.53 215.18M200.17 227.01 201.17 227.60 202.27 228.01 203.43 228.22 204.62 228.24 205.80 228.07 206.93 227.72 207.97 227.22 208.89 226.59 209.67 225.87 210.27 225.10 210.70 224.30 210.93 223.52" fill="none" stroke="#808080" stroke-width="3.17" stroke-linecap="butt" stroke-linejoin="round"/><path d="M186.24 214.01 187.16 214.72 188.19 215.26 189.32 215.60 190.49 215.75 191.68 215.70 192.85 215.47 193.95 215.07 194.96 214.52 195.83 213.86 196.56 213.12 197.10 212.33 197.46 211.54 197.63 210.77 197.60 210.08 197.40 209.50 197.02 209.05M193.20 220.52 194.16 221.17 195.23 221.64 196.37 221.92 197.56 222.00 198.74 221.89 199.89 221.60 200.96 221.15 201.93 220.56 202.76 219.87 203.43 219.11 203.91 218.31 204.21 217.53 204.31 216.79 204.22 216.13 203.96 215.58 203.53 215.18M200.17 227.01 201.17 227.60 202.27 228.01 203.43 228.22 204.62 228.24 205.80 228.07 206.93 227.72 207.97 227.22 208.89 226.59 209.67 225.87 210.27 225.10 210.70 224.30 210.93 223.52" fill="none" stroke="#e4e4e4" stroke-width="2.27" stroke-linecap="butt" stroke-linejoin="round"/><path d="M192.60 171.65 192.34 171.58 192.03 171.64 191.70 171.82 191.35 172.13 191.02 172.56 190.72 173.09 190.49 173.72 190.33 174.42 190.26 175.18 190.30 175.97 190.45 176.76 190.72 177.53 191.10 178.26 191.59 178.92 192.17 179.50 192.85 179.98" fill="none" stroke="#777" stroke-width="1.98" stroke-linecap="round" stroke-linejoin="round" opacity="0.85"/><path d="M185.11 174.83 185.83 175.23 186.61 175.51 187.42 175.66 188.24 175.69 189.05 175.60 189.82 175.40 190.54 175.10 191.19 174.72 191.74 174.29 192.20 173.82 192.54 173.35 192.77 172.89 192.88 172.46 192.88 172.10 192.79 171.83 192.60 171.65M192.85 179.98 193.59 180.34 194.38 180.57 195.19 180.69 196.01 180.67 196.81 180.54 197.57 180.31" fill="none" stroke="#777" stroke-width="3.17" stroke-linecap="butt" stroke-linejoin="round"/><path d="M185.11 174.83 185.83 175.23 186.61 175.51 187.42 175.66 188.24 175.69 189.05 175.60 189.82 175.40 190.54 175.10 191.19 174.72 191.74 174.29 192.20 173.82 192.54 173.35 192.77 172.89 192.88 172.46 192.88 172.10 192.79 171.83 192.60 171.65M192.85 179.98 193.59 180.34 194.38 180.57 195.19 180.69 196.01 180.67 196.81 180.54 197.57 180.31" fill="none" stroke="#e0e0e0" stroke-width="2.27" stroke-linecap="butt" stroke-linejoin="round"/><path d="M200.16 194.24 199.81 194.27 199.45 194.44 199.11 194.74 198.81 195.17 198.58 195.71 198.42 196.34 198.36 197.05 198.41 197.79 198.57 198.55 198.85 199.29 199.23 200.00 199.73 200.64 200.32 201.19 200.99 201.63 201.73 201.94 202.50 202.12" fill="none" stroke="#666" stroke-width="1.98" stroke-linecap="round" stroke-linejoin="round" opacity="0.85"/><path d="M195.22 200.51 196.01 200.62 196.81 200.58 197.59 200.40 198.34 200.10 199.03 199.68 199.65 199.16 200.17 198.57 200.58 197.93 200.89 197.27 201.08 196.62 201.16 196.00 201.12 195.44 200.99 194.97 200.78 194.60 200.49 194.35 200.16 194.24M202.50 202.12 203.30 202.16 204.10 202.05 204.87 201.82 205.59 201.46 206.25 200.99 206.82 200.44 207.30 199.82 207.66 199.17 207.92 198.51" fill="none" stroke="#666" stroke-width="3.17" stroke-linecap="butt" stroke-linejoin="round"/><path d="M195.22 200.51 196.01 200.62 196.81 200.58 197.59 200.40 198.34 200.10 199.03 199.68 199.65 199.16 200.17 198.57 200.58 197.93 200.89 197.27 201.08 196.62 201.16 196.00 201.12 195.44 200.99 194.97 200.78 194.60 200.49 194.35 200.16 194.24M202.50 202.12 203.30 202.16 204.10 202.05 204.87 201.82 205.59 201.46 206.25 200.99 206.82 200.44 207.30 199.82 207.66 199.17 207.92 198.51" fill="none" stroke="#dcdcdc" stroke-width="2.27" stroke-linecap="butt" stroke-linejoin="round"/><path d="M196.00 179.00C197.50 179.25 202.33 180.75 205.00 180.50C207.67 180.25 208.83 179.00 212.00 177.50C215.17 176.00 222.00 172.50 224.00 171.50" fill="none" stroke="#888" stroke-width="0.5" stroke-linecap="round"/><path d="M199.00 189.50C201.17 189.25 207.50 189.08 212.00 188.00C216.50 186.92 223.67 183.83 226.00 183.00" fill="none" stroke="#999" stroke-width="0.5" stroke-linecap="round"/><rect x="196.6" y="171.3" width="29.8" height="18.3" fill="none" stroke="#666" stroke-width="0.55"/><path d="M199.50 169.50L199.65 171.25" stroke="#4848d8" stroke-width="1.3" stroke-linecap="round"/><path d="M199.65 171.25L199.80 173.00" stroke="#4848d8" stroke-width="1.3" stroke-linecap="round"/><path d="M199.80 173.00L200.15 174.25" stroke="#4848d8" stroke-width="1.3" stroke-linecap="round"/><path d="M200.15 174.25L200.50 175.50" stroke="#e02020" stroke-width="1.3" stroke-linecap="round"/><path d="M202.00 173.40L203.25 174.45" stroke="#4848d8" stroke-width="1.3" stroke-linecap="round"/><path d="M203.25 174.45L204.50 175.50" stroke="#4848d8" stroke-width="1.3" stroke-linecap="round"/><path d="M204.50 175.50L205.50 174.50" stroke="#4848d8" stroke-width="1.3" stroke-linecap="round"/><path d="M205.50 174.50L206.50 173.50" stroke="#4848d8" stroke-width="1.3" stroke-linecap="round"/><path d="M206.50 173.50L207.55 174.50" stroke="#4848d8" stroke-width="1.3" stroke-linecap="round"/><path d="M207.55 174.50L208.60 175.50" stroke="#4848d8" stroke-width="1.3" stroke-linecap="round"/><path d="M214.00 172.00L214.75 173.50" stroke="#4848d8" stroke-width="1.3" stroke-linecap="round"/><path d="M214.75 173.50L215.50 175.00" stroke="#4848d8" stroke-width="1.3" stroke-linecap="round"/><path d="M215.50 175.00L216.25 174.25" stroke="#4848d8" stroke-width="1.3" stroke-linecap="round"/><path d="M216.25 174.25L217.00 173.50" stroke="#4848d8" stroke-width="1.3" stroke-linecap="round"/><path d="M199.00 184.00L200.50 183.60" stroke="#e07a20" stroke-width="1.4" stroke-linecap="round"/><path d="M200.50 183.60L202.00 183.20" stroke="#e02020" stroke-width="1.4" stroke-linecap="round"/><path d="M202.00 183.20L202.50 184.85" stroke="#e02020" stroke-width="1.4" stroke-linecap="round"/><path d="M202.50 184.85L203.00 186.50" stroke="#e07a20" stroke-width="1.4" stroke-linecap="round"/><path d="M203.00 186.50L204.75 187.75" stroke="#e07a20" stroke-width="1.4" stroke-linecap="round"/><path d="M204.75 187.75L206.50 189.00" stroke="#e07a20" stroke-width="1.4" stroke-linecap="round"/><path d="M222.30 176.50L221.65 177.00" stroke="#e07a20" stroke-width="1.4" stroke-linecap="round"/><path d="M221.65 177.00L221.00 177.50" stroke="#e02020" stroke-width="1.4" stroke-linecap="round"/><path d="M221.00 177.50L220.00 178.25" stroke="#e02020" stroke-width="1.4" stroke-linecap="round"/><path d="M220.00 178.25L219.00 179.00" stroke="#e07a20" stroke-width="1.4" stroke-linecap="round"/><path d="M219.00 179.00L218.00 179.85" stroke="#e07a20" stroke-width="1.4" stroke-linecap="round"/><path d="M218.00 179.85L217.00 180.70" stroke="#4848d8" stroke-width="1.4" stroke-linecap="round"/><path d="M217.00 180.70L215.50 181.85" stroke="#4848d8" stroke-width="1.4" stroke-linecap="round"/><path d="M215.50 181.85L214.00 183.00" stroke="#e07a20" stroke-width="1.4" stroke-linecap="round"/><path d="M214.00 183.00L212.90 184.00" stroke="#e07a20" stroke-width="1.4" stroke-linecap="round"/><path d="M212.90 184.00L211.80 185.00" stroke="#e07a20" stroke-width="1.4" stroke-linecap="round"/><path d="M211.80 185.00L210.65 186.50" stroke="#e07a20" stroke-width="1.4" stroke-linecap="round"/><path d="M210.65 186.50L209.50 188.00" stroke="#e07a20" stroke-width="1.4" stroke-linecap="round"/><path d="M206.50 189.00L207.55 190.10" stroke="#e07a20" stroke-width="2.0" stroke-linecap="round"/><path d="M207.55 190.10L208.60 191.20" stroke="#e07a20" stroke-width="2.0" stroke-linecap="round"/><path d="M208.60 191.20L210.05 192.60" stroke="#e07a20" stroke-width="2.0" stroke-linecap="round"/><path d="M210.05 192.60L211.50 194.00" stroke="#e07a20" stroke-width="2.0" stroke-linecap="round"/><path d="M211.50 194.00L212.25 196.00" stroke="#e07a20" stroke-width="2.0" stroke-linecap="round"/><path d="M212.25 196.00L213.00 198.00" stroke="#e07a20" stroke-width="2.0" stroke-linecap="round"/><path d="M213.00 198.00L212.00 200.50" stroke="#e07a20" stroke-width="2.0" stroke-linecap="round"/><path d="M212.00 200.50L211.00 203.00" stroke="#e07a20" stroke-width="2.0" stroke-linecap="round"/><path d="M211.00 203.00L210.50 205.00" stroke="#e07a20" stroke-width="2.0" stroke-linecap="round"/><path d="M210.50 205.00L210.00 207.00" stroke="#e07a20" stroke-width="2.0" stroke-linecap="round"/><path d="M210.00 207.00L210.00 210.75" stroke="#e07a20" stroke-width="2.0" stroke-linecap="round"/><path d="M210.00 210.75L210.00 214.50" stroke="#e07a20" stroke-width="2.0" stroke-linecap="round"/><path d="M210.00 214.50L210.75 216.75" stroke="#e07a20" stroke-width="2.0" stroke-linecap="round"/><path d="M210.75 216.75L211.50 219.00" stroke="#e02020" stroke-width="2.0" stroke-linecap="round"/><path d="M211.50 219.00L211.25 221.00" stroke="#e02020" stroke-width="2.0" stroke-linecap="round"/><path d="M211.25 221.00L211.00 223.00" stroke="#e07a20" stroke-width="2.0" stroke-linecap="round"/><path d="M209.50 188.00L209.05 189.60" stroke="#e07a20" stroke-width="1.6" stroke-linecap="round"/><path d="M209.05 189.60L208.60 191.20" stroke="#e07a20" stroke-width="1.6" stroke-linecap="round"/><path d="M211.50 194.00L211.85 194.75" stroke="#4848d8" stroke-width="1.6" stroke-linecap="round"/><path d="M211.85 194.75L212.20 195.50" stroke="#4848d8" stroke-width="1.6" stroke-linecap="round"/><path d="M211.00 203.00L210.75 204.00" stroke="#4848d8" stroke-width="1.6" stroke-linecap="round"/><path d="M210.75 204.00L210.50 205.00" stroke="#4848d8" stroke-width="1.6" stroke-linecap="round"/><path d="M213.00 198.00L210.00 197.00" stroke="#e07a20" stroke-width="1.3" stroke-linecap="round"/><path d="M210.00 197.00L207.00 196.00" stroke="#e07a20" stroke-width="1.3" stroke-linecap="round"/><path d="M207.00 196.00L205.50 197.50" stroke="#e07a20" stroke-width="1.3" stroke-linecap="round"/><path d="M205.50 197.50L204.00 199.00" stroke="#e02020" stroke-width="1.3" stroke-linecap="round"/><path d="M210.00 207.00L212.50 205.50" stroke="#e07a20" stroke-width="1.3" stroke-linecap="round"/><path d="M212.50 205.50L215.00 204.00" stroke="#e07a20" stroke-width="1.3" stroke-linecap="round"/><path d="M215.00 204.00L216.50 202.50" stroke="#e07a20" stroke-width="1.3" stroke-linecap="round"/><path d="M216.50 202.50L218.00 201.00" stroke="#e07a20" stroke-width="1.3" stroke-linecap="round"/><path d="M210.00 214.50L207.50 215.25" stroke="#e07a20" stroke-width="1.3" stroke-linecap="round"/><path d="M207.50 215.25L205.00 216.00" stroke="#e07a20" stroke-width="1.3" stroke-linecap="round"/><path d="M205.00 216.00L204.00 217.50" stroke="#e07a20" stroke-width="1.3" stroke-linecap="round"/><path d="M204.00 217.50L203.00 219.00" stroke="#e02020" stroke-width="1.3" stroke-linecap="round"/><path d="M211.50 194.00L213.75 192.50" stroke="#e07a20" stroke-width="1.2" stroke-linecap="round"/><path d="M213.75 192.50L216.00 191.00" stroke="#e07a20" stroke-width="1.2" stroke-linecap="round"/><path d="M216.00 191.00L217.50 192.00" stroke="#e07a20" stroke-width="1.2" stroke-linecap="round"/><path d="M217.50 192.00L219.00 193.00" stroke="#4848d8" stroke-width="1.2" stroke-linecap="round"/><path d="M213.00 198.00L215.00 197.50" stroke="#e07a20" stroke-width="1.2" stroke-linecap="round"/><path d="M215.00 197.50L217.00 197.00" stroke="#e07a20" stroke-width="1.2" stroke-linecap="round"/><path d="M217.00 197.00L218.00 198.00" stroke="#e07a20" stroke-width="1.2" stroke-linecap="round"/><path d="M218.00 198.00L219.00 199.00" stroke="#e02020" stroke-width="1.2" stroke-linecap="round"/><path d="M211.00 203.00L209.00 202.50" stroke="#e07a20" stroke-width="1.2" stroke-linecap="round"/><path d="M209.00 202.50L207.00 202.00" stroke="#e07a20" stroke-width="1.2" stroke-linecap="round"/><path d="M207.00 202.00L206.00 203.50" stroke="#e07a20" stroke-width="1.2" stroke-linecap="round"/><path d="M206.00 203.50L205.00 205.00" stroke="#e07a20" stroke-width="1.2" stroke-linecap="round"/><path d="M210.00 210.00L212.00 210.50" stroke="#e07a20" stroke-width="1.2" stroke-linecap="round"/><path d="M212.00 210.50L214.00 211.00" stroke="#e07a20" stroke-width="1.2" stroke-linecap="round"/><path d="M214.00 211.00L215.00 212.50" stroke="#e07a20" stroke-width="1.2" stroke-linecap="round"/><path d="M215.00 212.50L216.00 214.00" stroke="#e07a20" stroke-width="1.2" stroke-linecap="round"/><path d="M210.50 218.00L208.75 219.50" stroke="#e07a20" stroke-width="1.1" stroke-linecap="round"/><path d="M208.75 219.50L207.00 221.00" stroke="#e07a20" stroke-width="1.1" stroke-linecap="round"/><path d="M207.00 221.00L207.50 222.50" stroke="#e07a20" stroke-width="1.1" stroke-linecap="round"/><path d="M207.50 222.50L208.00 224.00" stroke="#4848d8" stroke-width="1.1" stroke-linecap="round"/><path d="M214.00 183.00L213.50 185.50" stroke="#e07a20" stroke-width="1.1" stroke-linecap="round"/><path d="M213.50 185.50L213.00 188.00" stroke="#e07a20" stroke-width="1.1" stroke-linecap="round"/><path d="M213.00 188.00L214.50 188.00" stroke="#e07a20" stroke-width="1.1" stroke-linecap="round"/><path d="M214.50 188.00L216.00 188.00" stroke="#e02020" stroke-width="1.1" stroke-linecap="round"/><path d="M208.60 191.20L206.30 192.10" stroke="#e07a20" stroke-width="1.1" stroke-linecap="round"/><path d="M206.30 192.10L204.00 193.00" stroke="#e07a20" stroke-width="1.1" stroke-linecap="round"/><path d="M204.00 193.00L203.00 192.00" stroke="#e07a20" stroke-width="1.1" stroke-linecap="round"/><path d="M203.00 192.00L202.00 191.00" stroke="#e02020" stroke-width="1.1" stroke-linecap="round"/><path d="M226.4 171.3L252 135M226.4 189.6L252 211" stroke="#777" stroke-width="0.55" fill="none"/><rect x="252" y="135" width="99" height="76" fill="#fff" stroke="#8a8a8a" stroke-width="0.7"/><defs><clipPath id="ic"><rect x="252.4" y="135.4" width="98.2" height="75.2"/></clipPath></defs><g clip-path="url(#ic)"><path d="M255.5 161 C252.5 152 258 145 265.5 145 C272 145 276 150 275.5 156" fill="none" stroke="#7a7a7a" stroke-width="1.3" stroke-linecap="round"/><path d="M255.2 160 C253 152 258 146 266 145.6" fill="none" stroke="#3a3a3a" stroke-width="2.0" stroke-linecap="round"/><path d="M255.5 161 C258 167.5 270 168.5 275.5 156" fill="none" stroke="#555" stroke-width="1.2"/><path d="M258 157 C257 150 263 148 268 150 C272 152 271 157 266 157 C262 157 261 153 264 152" fill="none" stroke="#9a9a9a" stroke-width="0.8"/><path d="M266 157 C272 158 279 157 284 161 C287 164 288 168 288 176" fill="none" stroke="#666" stroke-width="0.9"/><path d="M253.00 192.00C253.67 191.75 255.83 190.17 257.00 190.50C258.17 190.83 259.00 193.58 260.00 194.00C261.00 194.42 262.17 194.00 263.00 193.00C263.83 192.00 264.42 189.17 265.00 188.00C265.58 186.83 266.25 186.33 266.50 186.00" fill="none" stroke="#444" stroke-width="1.0" stroke-linecap="round"/><path d="M301.75 181.76 L300.84 181.83 L299.62 181.91 L298.15 182.02 L296.51 182.13 L294.76 182.27 L292.99 182.42 L291.24 182.59 L289.61 182.77 L288.06 182.97 L286.53 183.19 L285.00 183.42 L283.47 183.67 L281.93 183.93 L280.40 184.21 L278.87 184.51 L277.33 184.82 L275.69 185.18 L273.95 185.59 L272.18 186.03 L270.44 186.48 L268.80 186.91 L267.33 187.29 L266.11 187.62 L265.19 187.85 L266.81 194.15 L267.75 193.91 L268.99 193.58 L270.45 193.19 L272.06 192.77 L273.77 192.33 L275.49 191.91 L277.14 191.52 L278.67 191.18 L280.13 190.88 L281.60 190.60 L283.07 190.33 L284.53 190.08 L286.00 189.84 L287.47 189.62 L288.94 189.42 L290.39 189.23 L291.92 189.05 L293.57 188.89 L295.29 188.75 L296.99 188.62 L298.61 188.50 L300.07 188.40 L301.31 188.31 L302.25 188.24Z" fill="#d9d9d9" stroke="#777" stroke-width="0.5" stroke-linejoin="round"/><path d="M270 191 L300 187 L300 190 L272 194Z" fill="#b0b0b0" opacity="0.8"/><path d="M266 176 L271 172 L274 182 L270 185 Z" fill="#8a8a8a" stroke="#444" stroke-width="0.5"/><path d="M283 212 L288 202 L296 199 L302 204 L300 212 Z" fill="#9a9a9a" stroke="#444" stroke-width="0.5"/><path d="M291 212 L294 205 L297 212Z" fill="#3a3a3a"/><path d="M252 204 L268 196 L310 190 L318 193 L300 200 L270 206 Z" fill="#e6e6e6" stroke="#999" stroke-width="0.4"/><path d="M303 212 L305 196 L311 192 L314 198 L312 212 Z" fill="#8f8f8f" stroke="#444" stroke-width="0.5"/><path d="M342.6 137.5 C336 142 333 150 334 158 C336 166 344 168 348 164 C350 158 346 152 340 150" fill="none" stroke="#666" stroke-width="1.0"/><path d="M342.6 137.5 C345 136 346 139 344 142 C340 147 337 152 336 158" fill="none" stroke="#ddd" stroke-width="1.2"/><path d="M332.8 173.3 C338 176 344 175 349 169" fill="none" stroke="#666" stroke-width="0.8"/><path d="M336 212 C338 200 346 194 353 193" fill="none" stroke="#666" stroke-width="0.8"/><path d="M273.00 182.00L277.00 179.50" stroke="#4848d8" stroke-width="1.5" stroke-linecap="round"/><path d="M277.00 179.50L281.00 177.00" stroke="#4848d8" stroke-width="1.5" stroke-linecap="round"/><path d="M281.00 177.00L282.50 173.50" stroke="#4848d8" stroke-width="1.5" stroke-linecap="round"/><path d="M282.50 173.50L284.00 170.00" stroke="#4848d8" stroke-width="1.5" stroke-linecap="round"/><path d="M281.00 177.00L282.50 180.00" stroke="#4848d8" stroke-width="1.4" stroke-linecap="round"/><path d="M282.50 180.00L284.00 183.00" stroke="#4848d8" stroke-width="1.4" stroke-linecap="round"/><path d="M289.00 167.00L287.00 168.50" stroke="#e02020" stroke-width="0.9" stroke-linecap="round"/><path d="M287.00 168.50L285.00 170.00" stroke="#4848d8" stroke-width="0.9" stroke-linecap="round"/><path d="M295.00 171.60L297.50 171.80" stroke="#4848d8" stroke-width="1.8" stroke-linecap="round"/><path d="M297.50 171.80L300.00 172.00" stroke="#4848d8" stroke-width="1.8" stroke-linecap="round"/><path d="M300.00 172.00L303.25 172.65" stroke="#4848d8" stroke-width="1.8" stroke-linecap="round"/><path d="M303.25 172.65L306.50 173.30" stroke="#4848d8" stroke-width="1.8" stroke-linecap="round"/><path d="M306.50 173.30L308.25 174.15" stroke="#4848d8" stroke-width="1.8" stroke-linecap="round"/><path d="M308.25 174.15L310.00 175.00" stroke="#4848d8" stroke-width="1.8" stroke-linecap="round"/><path d="M310.00 175.00L312.35 175.80" stroke="#4848d8" stroke-width="1.8" stroke-linecap="round"/><path d="M312.35 175.80L314.70 176.60" stroke="#4848d8" stroke-width="1.8" stroke-linecap="round"/><path d="M314.70 176.60L317.15 175.75" stroke="#4848d8" stroke-width="1.8" stroke-linecap="round"/><path d="M317.15 175.75L319.60 174.90" stroke="#4848d8" stroke-width="1.8" stroke-linecap="round"/><path d="M319.60 174.90L323.75 175.30" stroke="#4848d8" stroke-width="1.8" stroke-linecap="round"/><path d="M323.75 175.30L327.90 175.70" stroke="#4848d8" stroke-width="1.8" stroke-linecap="round"/><path d="M304.90 184.80L308.15 185.20" stroke="#4848d8" stroke-width="1.7" stroke-linecap="round"/><path d="M308.15 185.20L311.40 185.60" stroke="#4848d8" stroke-width="1.7" stroke-linecap="round"/><path d="M311.40 185.60L312.20 183.80" stroke="#4848d8" stroke-width="1.7" stroke-linecap="round"/><path d="M312.20 183.80L313.00 182.00" stroke="#4848d8" stroke-width="1.7" stroke-linecap="round"/><path d="M313.00 182.00L311.50 180.50" stroke="#4848d8" stroke-width="1.7" stroke-linecap="round"/><path d="M311.50 180.50L310.00 179.00" stroke="#4848d8" stroke-width="1.7" stroke-linecap="round"/><path d="M304.90 184.80L303.95 186.90" stroke="#4848d8" stroke-width="1.7" stroke-linecap="round"/><path d="M303.95 186.90L303.00 189.00" stroke="#4848d8" stroke-width="1.7" stroke-linecap="round"/><path d="M303.00 189.00L304.00 191.80" stroke="#4848d8" stroke-width="1.7" stroke-linecap="round"/><path d="M304.00 191.80L305.00 194.60" stroke="#4848d8" stroke-width="1.7" stroke-linecap="round"/><path d="M303.20 155.50L303.50 151.80" stroke="#e02020" stroke-width="2.4" stroke-linecap="round"/><path d="M303.50 151.80L303.80 148.10" stroke="#e07a20" stroke-width="2.4" stroke-linecap="round"/><path d="M303.80 148.10L306.80 148.95" stroke="#e07a20" stroke-width="2.4" stroke-linecap="round"/><path d="M306.80 148.95L309.80 149.80" stroke="#e07a20" stroke-width="2.4" stroke-linecap="round"/><path d="M309.80 149.80L312.25 150.60" stroke="#e07a20" stroke-width="2.4" stroke-linecap="round"/><path d="M312.25 150.60L314.70 151.40" stroke="#4848d8" stroke-width="2.4" stroke-linecap="round"/><path d="M314.70 151.40L317.15 150.20" stroke="#4848d8" stroke-width="2.4" stroke-linecap="round"/><path d="M317.15 150.20L319.60 149.00" stroke="#e07a20" stroke-width="2.4" stroke-linecap="round"/><path d="M319.60 149.00L322.10 149.80" stroke="#e07a20" stroke-width="2.4" stroke-linecap="round"/><path d="M322.10 149.80L324.60 150.60" stroke="#e07a20" stroke-width="2.4" stroke-linecap="round"/><path d="M324.60 150.60L325.40 148.95" stroke="#e07a20" stroke-width="2.4" stroke-linecap="round"/><path d="M325.40 148.95L326.20 147.30" stroke="#e02020" stroke-width="2.4" stroke-linecap="round"/><path d="M324.60 150.60L328.70 151.80" stroke="#e07a20" stroke-width="2.4" stroke-linecap="round"/><path d="M328.70 151.80L332.80 153.00" stroke="#4848d8" stroke-width="2.4" stroke-linecap="round"/><path d="M332.80 153.00L333.60 154.65" stroke="#4848d8" stroke-width="2.4" stroke-linecap="round"/><path d="M333.60 154.65L334.40 156.30" stroke="#e07a20" stroke-width="2.4" stroke-linecap="round"/><path d="M334.40 156.30L336.45 155.90" stroke="#e07a20" stroke-width="2.4" stroke-linecap="round"/><path d="M336.45 155.90L338.50 155.50" stroke="#e07a20" stroke-width="2.4" stroke-linecap="round"/><path d="M338.50 155.50L339.75 152.25" stroke="#e07a20" stroke-width="2.4" stroke-linecap="round"/><path d="M339.75 152.25L341.00 149.00" stroke="#e07a20" stroke-width="2.4" stroke-linecap="round"/><path d="M341.00 149.00L342.65 148.55" stroke="#e07a20" stroke-width="2.4" stroke-linecap="round"/><path d="M342.65 148.55L344.30 148.10" stroke="#e07a20" stroke-width="2.4" stroke-linecap="round"/><path d="M344.30 148.10L345.90 147.70" stroke="#e07a20" stroke-width="2.4" stroke-linecap="round"/><path d="M345.90 147.70L347.50 147.30" stroke="#f0f0f0" stroke-width="2.4" stroke-linecap="round"/><path d="M334.40 156.30L333.60 159.60" stroke="#e07a20" stroke-width="2.4" stroke-linecap="round"/><path d="M333.60 159.60L332.80 162.90" stroke="#e07a20" stroke-width="2.4" stroke-linecap="round"/><path d="M332.80 162.90L330.90 163.95" stroke="#e07a20" stroke-width="2.4" stroke-linecap="round"/><path d="M330.90 163.95L329.00 165.00" stroke="#4848d8" stroke-width="2.4" stroke-linecap="round"/><path d="M329.00 165.00L327.00 167.50" stroke="#4848d8" stroke-width="2.4" stroke-linecap="round"/><path d="M327.00 167.50L325.00 170.00" stroke="#e07a20" stroke-width="2.4" stroke-linecap="round"/><path d="M325.00 170.00L321.50 171.00" stroke="#e07a20" stroke-width="2.4" stroke-linecap="round"/><path d="M321.50 171.00L318.00 172.00" stroke="#e07a20" stroke-width="2.4" stroke-linecap="round"/><path d="M318.00 172.00L320.00 169.50" stroke="#e07a20" stroke-width="2.4" stroke-linecap="round"/><path d="M320.00 169.50L322.00 167.00" stroke="#e07a20" stroke-width="2.4" stroke-linecap="round"/><path d="M327.90 170.00L327.90 173.30" stroke="#e07a20" stroke-width="2.4" stroke-linecap="round"/><path d="M327.90 173.30L327.90 176.60" stroke="#e07a20" stroke-width="2.4" stroke-linecap="round"/><path d="M327.90 176.60L327.95 178.80" stroke="#e07a20" stroke-width="2.4" stroke-linecap="round"/><path d="M327.95 178.80L328.00 181.00" stroke="#4848d8" stroke-width="2.4" stroke-linecap="round"/><path d="M328.00 181.00L328.35 182.05" stroke="#4848d8" stroke-width="2.4" stroke-linecap="round"/><path d="M328.35 182.05L328.70 183.10" stroke="#e07a20" stroke-width="2.4" stroke-linecap="round"/><path d="M328.70 183.10L329.50 183.95" stroke="#e07a20" stroke-width="2.4" stroke-linecap="round"/><path d="M329.50 183.95L330.30 184.80" stroke="#e07a20" stroke-width="2.4" stroke-linecap="round"/><path d="M330.30 184.80L334.00 184.80" stroke="#e07a20" stroke-width="2.4" stroke-linecap="round"/><path d="M334.00 184.80L337.70 184.80" stroke="#e07a20" stroke-width="2.4" stroke-linecap="round"/><path d="M330.30 184.80L330.30 188.05" stroke="#e07a20" stroke-width="2.4" stroke-linecap="round"/><path d="M330.30 188.05L330.30 191.30" stroke="#e07a20" stroke-width="2.4" stroke-linecap="round"/><path d="M330.30 191.30L329.90 192.95" stroke="#e07a20" stroke-width="2.4" stroke-linecap="round"/><path d="M329.90 192.95L329.50 194.60" stroke="#e02020" stroke-width="2.4" stroke-linecap="round"/><path d="M290 168 L300 170.5M308 175 L311 184.5M311.5 185 L328 176" stroke="#d8c830" stroke-width="0.8" stroke-dasharray="1 0.8" fill="none"/><text x="293" y="172" font-size="3.8" fill="#333">3.5</text><text x="302" y="183" font-size="3.8" fill="#333">4.2</text><text x="318" y="182" font-size="3.8" fill="#333">4.5</text></g></svg></body></html>
